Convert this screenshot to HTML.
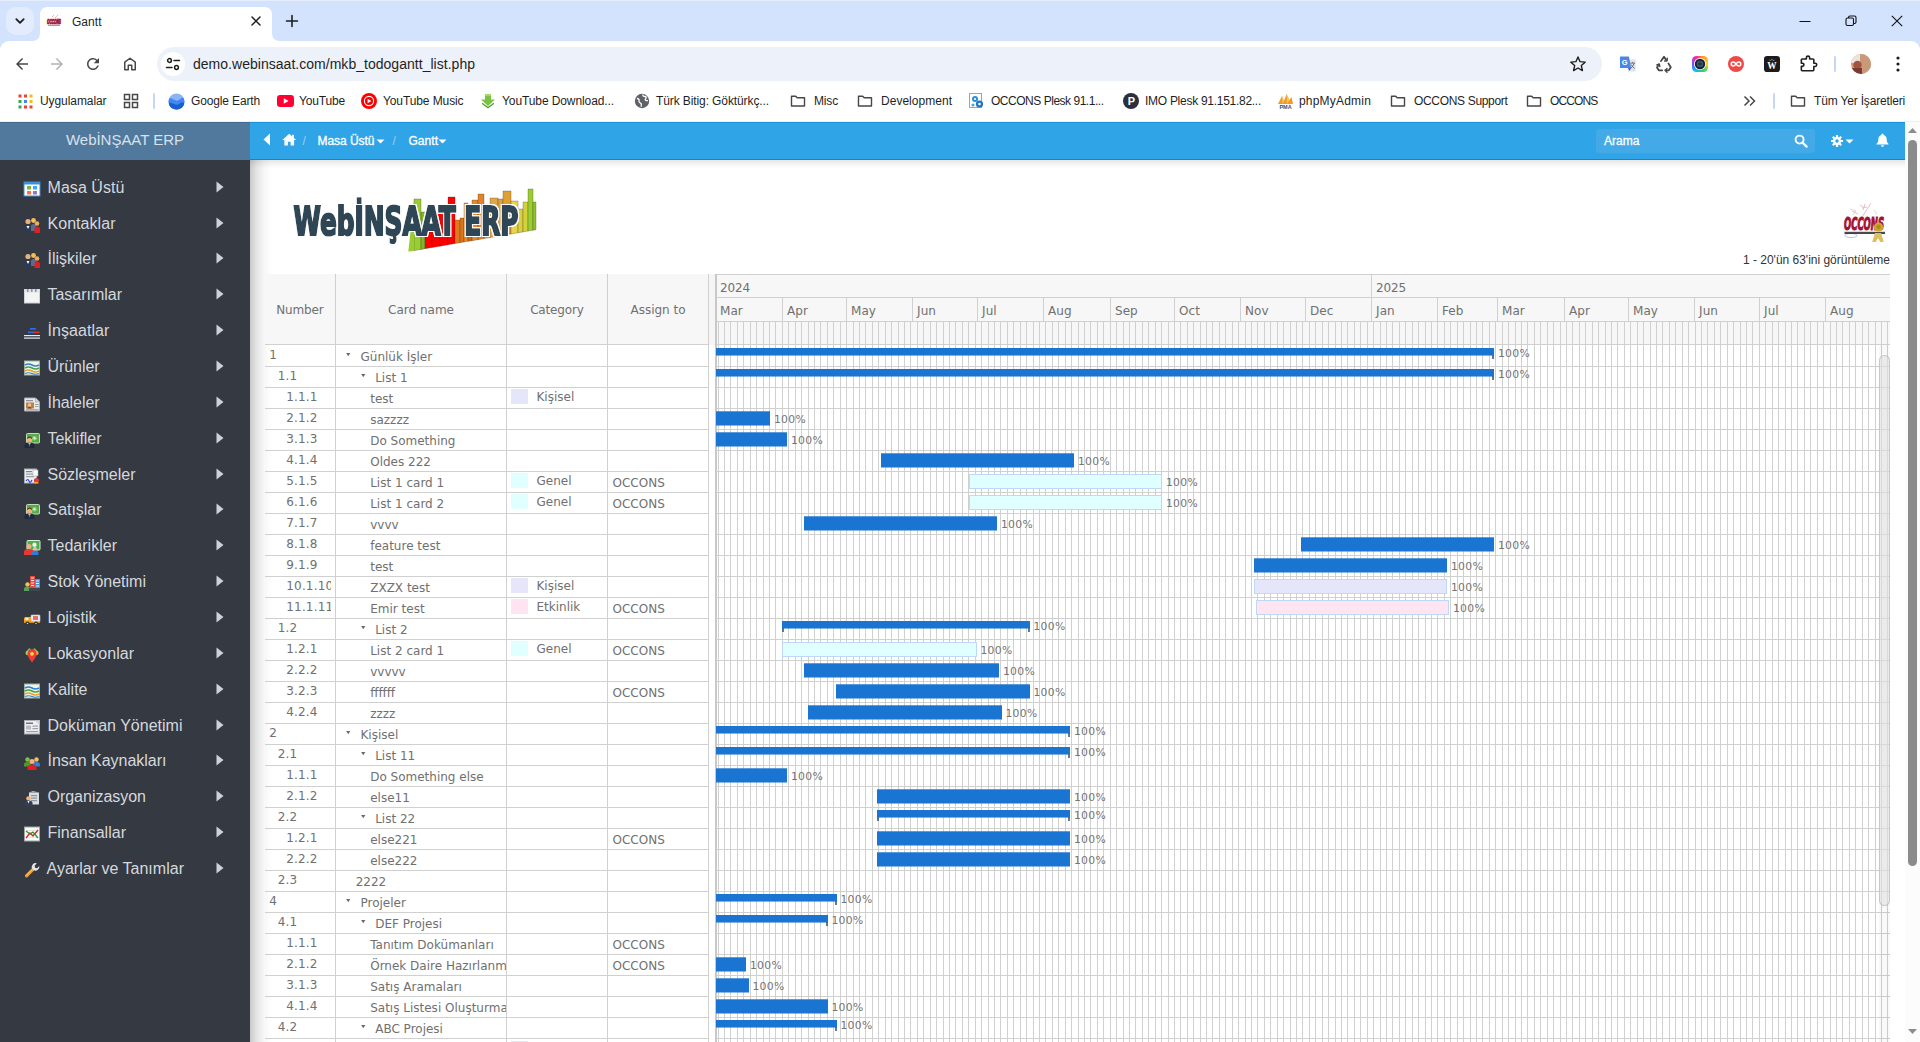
<!DOCTYPE html>
<html lang="tr">
<head>
<meta charset="utf-8">
<title>Gantt</title>
<style>
html,body{margin:0;padding:0}
body{width:1920px;height:1042px;overflow:hidden;position:relative;background:#fff;font-family:"Liberation Sans",sans-serif;font-size:12px;color:#333}
.a,.t{position:absolute;box-sizing:border-box}
.t{white-space:nowrap;margin:0;padding:0;font-weight:normal}
svg{position:absolute;overflow:visible}
ul,li{list-style:none;margin:0;padding:0}
</style>
</head>
<body>
<header><div class="a" style="left:0px;top:0px;width:1920px;height:60px;background:#d3e3fd;"></div>
<div class="a" style="left:0px;top:0px;width:1920px;height:1px;background:#e6eefd;"></div>
<div class="a" style="left:6px;top:7px;width:28px;height:28px;background:#e3ecfd;border-radius:10px;"></div>
<svg style="left:13px;top:15px" width="14" height="12" viewBox="0 0 14 12"><path d="M3.300 4.200l3.700 3.700 3.700-3.700" fill="none" stroke="#1f1f1f" stroke-width="1.8" stroke-linecap="round" stroke-linejoin="round"/></svg>
<svg style="left:32px;top:7px" width="248" height="34" viewBox="0 0 248 34"><path d="M0 34 Q8 34 8 26 V8 Q8 0 16 0 H232 Q240 0 240 8 V26 Q240 34 248 34 Z" fill="#fff"/></svg>
<svg style="left:46px;top:13px" width="16" height="16" viewBox="0 0 16 16"><text x="8" y="11" font-size="7" font-weight="700" font-style="italic" fill="#a3123a" stroke="#a3123a" stroke-width=".9" text-anchor="middle" font-family="Liberation Sans, sans-serif" textLength="14" lengthAdjust="spacingAndGlyphs">OCCONS</text><rect x="2" y="11.800" width="12" height=".9" fill="#777"/><path d="M6 4l2-2M9 5l3-3" stroke="#d9a0a8" stroke-width=".7"/></svg>
<span class="t" style="top:15.84px;font-size:12px;line-height:12px;color:#1f1f1f;letter-spacing:0.028px;left:72.00px;">Gantt</span>
<svg style="left:250px;top:15px" width="12" height="12" viewBox="0 0 12 12"><path d="M2 2l8 8M10 2l-8 8" stroke="#1f1f1f" stroke-width="1.5" stroke-linecap="round"/></svg>
<svg style="left:285px;top:14px" width="14" height="14" viewBox="0 0 14 14"><path d="M7 1.5v11M1.5 7h11" stroke="#1f1f1f" stroke-width="1.6" stroke-linecap="round"/></svg>
<svg style="left:1799px;top:15px" width="12" height="12" viewBox="0 0 12 12"><path d="M0.5 6.5h11" stroke="#111" stroke-width="1"/></svg>
<svg style="left:1845px;top:15px" width="12" height="12" viewBox="0 0 12 12"><rect x="1" y="3" width="7.5" height="7.5" rx="1.5" fill="none" stroke="#111" stroke-width="1.1"/><path d="M3.5 3V2.5Q3.5 1 5 1H9.5Q11 1 11 2.5V7Q11 8.5 9.5 8.5H9" fill="none" stroke="#111" stroke-width="1.1"/></svg>
<svg style="left:1891px;top:15px" width="12" height="12" viewBox="0 0 12 12"><path d="M0.8 0.8l10.4 10.4M11.2 0.8L0.8 11.2" stroke="#111" stroke-width="1.1"/></svg>
<div class="a" style="left:0px;top:41px;width:1920px;height:46px;background:#fff;border-radius:9px 9px 0 0;"></div>
<svg style="left:13px;top:55px" width="18" height="18" viewBox="0 0 24 24"><path d="M20 11H7.83l5.59-5.59L12 4l-8 8 8 8 1.41-1.41L7.83 13H20v-2z" fill="#474747"/></svg>
<svg style="left:48px;top:55px" width="18" height="18" viewBox="0 0 24 24"><path d="M4 11h12.17l-5.59-5.59L12 4l8 8-8 8-1.41-1.41L16.17 13H4v-2z" fill="#b1b3b6"/></svg>
<svg style="left:84px;top:55px" width="18" height="18" viewBox="0 0 24 24"><path d="M17.65 6.35A7.958 7.958 0 0012 4c-4.42 0-7.99 3.58-7.99 8s3.57 8 7.99 8c3.73 0 6.84-2.55 7.73-6h-2.08A5.99 5.99 0 0112 18c-3.31 0-6-2.69-6-6s2.69-6 6-6c1.66 0 3.14.69 4.22 1.78L13 11h7V4l-2.35 2.35z" fill="#474747"/></svg>
<svg style="left:121px;top:55px" width="18" height="18" viewBox="0 0 24 24"><path d="M5 19.800V9.600L12 4.300l7 5.300v10.200h-4.700v-6.300H9.700v6.300z" fill="none" stroke="#474747" stroke-width="2" stroke-linejoin="round"/></svg>
<div class="a" style="left:157px;top:47px;width:1445px;height:34px;background:#edf2fa;border-radius:17px;"></div>
<div class="a" style="left:161px;top:52px;width:24px;height:24px;background:#fff;border-radius:12px;"></div>
<svg style="left:165px;top:56px" width="16" height="16" viewBox="0 0 16 16"><g fill="none" stroke="#1f1f1f" stroke-width="1.5" stroke-linecap="round"><circle cx="4.5" cy="4.5" r="1.9"/><path d="M9 4.5h5.5"/><circle cx="11.5" cy="11.5" r="1.9"/><path d="M1.5 11.5H7"/></g></svg>
<span class="t" style="top:57.15px;font-size:14px;line-height:14px;color:#1f1f1f;letter-spacing:0.026px;left:193.00px;">demo.webinsaat.com/mkb_todogantt_list.php</span>
<svg style="left:1568px;top:54px" width="20" height="20" viewBox="0 0 24 24"><path d="M12 3.6l2.5 5.6 6.1.6-4.6 4.1 1.3 6L12 16.8l-5.3 3.1 1.3-6-4.6-4.1 6.1-.6z" fill="none" stroke="#1f1f1f" stroke-width="1.7" stroke-linejoin="round"/></svg>
<svg style="left:1620px;top:56px" width="16" height="16" viewBox="0 0 18 18"><path d="M7 4h10.500v13.500H9z" fill="#dfe3e8"/><path d="M0 .5h10l2.500 13H0z" fill="#4a86e8"/><path d="M9 13.500h3.500L10.500 17z" fill="#3367d6"/><text x="5.200" y="10.200" font-size="8.500" font-weight="700" fill="#fff" text-anchor="middle" font-family="Liberation Sans, sans-serif">G</text><path d="M11.500 8h5.500M14 6.800V8M16 8q-1 3.500-4 6M12.500 9.500q1 2.500 4 4.500" stroke="#5f6b7a" stroke-width="1" fill="none"/></svg>
<svg style="left:1655px;top:55px" width="18" height="18" viewBox="0 0 18 18"><g fill="none" stroke="#474747" stroke-width="1.800" stroke-linejoin="round" stroke-linecap="round"><path d="M6 6L9 1.800l2.600 3.800"/><path d="M13.400 8.400l2.400 3.900-2 3H10.500"/><path d="M7.200 15.300H3.800L2 12.500l2-3.200"/><path d="M12 13.400l-1.900 1.900 1.900 1.900" stroke-width="1.400"/><path d="M1.800 9.800l2.400-.7.700 2.400" stroke-width="1.400"/><path d="M9.600 6l2.400-.3.300-2.400" stroke-width="1.400"/></g></svg>
<div class="a" style="left:1692px;top:56px;width:16px;height:16px;border-radius:4.500px;background:conic-gradient(from 20deg,#ff9a1f,#ffd21f 20%,#39d36b 35%,#12b5f5 55%,#7c4dff 70%,#ff2d95 88%,#ff9a1f);"></div>
<svg style="left:1692px;top:56px" width="16" height="16" viewBox="0 0 16 16"><circle cx="8" cy="8" r="6" fill="#fff"/><circle cx="8" cy="8" r="5.200" fill="#16222e"/><circle cx="8" cy="8" r="3.300" fill="#3b566f"/><circle cx="8" cy="8" r="1.800" fill="#22384a"/></svg>
<svg style="left:1728px;top:56px" width="16" height="16" viewBox="0 0 18 18"><circle cx="9" cy="9" r="9" fill="#f04848"/><path d="M9 9c-1.200-1.700-2.100-2.200-3.200-2.200a2.200 2.200 0 000 4.400c1.100 0 2-.5 3.200-2.200zm0 0c1.200 1.700 2.100 2.200 3.200 2.200a2.200 2.200 0 000-4.400c-1.100 0-2 .5-3.200 2.200z" fill="none" stroke="#fff" stroke-width="1.700"/></svg>
<svg style="left:1764px;top:56px" width="16" height="16" viewBox="0 0 18 18"><rect width="18" height="18" rx="3.500" fill="#1b1b1d"/><text x="9" y="14.500" font-size="10.500" font-weight="700" fill="#fff" text-anchor="middle" font-family="Liberation Serif, serif">W</text><path d="M6.300 4.300l.9 1.100M9 3.300v1.500M11.700 4.300l-.9 1.100" stroke="#fff" stroke-width=".8"/></svg>
<svg style="left:1798px;top:54px" width="20" height="20" viewBox="0 0 24 24"><path d="M10 4.5a2 2 0 014 0V6h4a1 1 0 011 1v4h1.5a2 2 0 010 4H19v4a1 1 0 01-1 1H5a1 1 0 01-1-1v-4.2h1.2a1.9 1.9 0 000-3.8H4V7a1 1 0 011-1h5z" fill="none" stroke="#1f1f1f" stroke-width="1.9" stroke-linejoin="round"/></svg>
<div class="a" style="left:1834px;top:56px;width:2px;height:16px;background:#c7d7f3;border-radius:1px;"></div>
<svg style="left:1851px;top:54px" width="20" height="20" viewBox="0 0 20 20"><defs><clipPath id="av"><circle cx="10" cy="10" r="10"/></clipPath></defs><g clip-path="url(#av)"><rect width="20" height="20" fill="#c99b7c"/><rect x="0" y="0" width="9" height="9" fill="#ece4dc"/><circle cx="6.5" cy="11" r="4.2" fill="#a3543f"/><rect x="0" y="14" width="12" height="6" fill="#7a3b34"/><rect x="11" y="0" width="9" height="20" fill="#c9997a"/></g></svg>
<svg style="left:1895px;top:54px" width="6" height="20" viewBox="0 0 6 20"><circle cx="3" cy="4" r="1.6" fill="#1f1f1f"/><circle cx="3" cy="10" r="1.6" fill="#1f1f1f"/><circle cx="3" cy="16" r="1.6" fill="#1f1f1f"/></svg>
<div class="a" style="left:0px;top:87px;width:1920px;height:34px;background:#fff;"></div>
<div class="a" style="left:0px;top:121px;width:1920px;height:1px;background:#f2f0ed;"></div>
<svg style="left:18px;top:94px" width="15" height="15" viewBox="0 0 15 15"><rect x="0.5" y="0.5" width="3" height="3" fill="#ea4335"/><rect x="6" y="0.5" width="3" height="3" fill="#ea4335"/><rect x="11.5" y="0.5" width="3" height="3" fill="#fbbc04"/><rect x="0.5" y="6" width="3" height="3" fill="#34a853"/><rect x="6" y="6" width="3" height="3" fill="#4285f4"/><rect x="11.5" y="6" width="3" height="3" fill="#fbbc04"/><rect x="0.5" y="11.5" width="3" height="3" fill="#34a853"/><rect x="6" y="11.5" width="3" height="3" fill="#ea4335"/><rect x="11.5" y="11.5" width="3" height="3" fill="#ea4335"/></svg>
<span class="t" style="top:94.84px;font-size:12px;line-height:12px;color:#1f1f1f;letter-spacing:-0.078px;left:40.00px;">Uygulamalar</span>
<svg style="left:123px;top:93px" width="16" height="16" viewBox="0 0 16 16"><g fill="none" stroke="#474747" stroke-width="1.5"><rect x="1.5" y="1.5" width="5" height="5"/><rect x="9.5" y="1.5" width="5" height="5"/><rect x="1.5" y="9.5" width="5" height="5"/><rect x="9.5" y="9.5" width="5" height="5"/></g></svg>
<div class="a" style="left:153px;top:93px;width:2px;height:16px;background:#c7d7f3;border-radius:1px;"></div>
<svg style="left:168px;top:93px" width="17" height="17" viewBox="0 0 17 17"><defs><clipPath id="ge"><circle cx="8.5" cy="8.5" r="8"/></clipPath></defs><g clip-path="url(#ge)"><rect width="17" height="17" fill="#8ab4f8"/><path d="M-1 7c4-5 8 3 12 0s6-3 8-1v12H-1z" fill="#4285f4"/><path d="M-1 11c4-4 8 3 12 0s5-1 8 1v6H-1z" fill="#1a5fd0"/></g></svg>
<span class="t" style="top:94.84px;font-size:12px;line-height:12px;color:#1f1f1f;letter-spacing:-0.143px;left:191.00px;">Google Earth</span>
<svg style="left:277px;top:95px" width="17" height="12" viewBox="0 0 17 12"><rect width="17" height="12" rx="3.2" fill="#f03"/><path d="M6.8 3.3v5.4L11.5 6z" fill="#fff"/></svg>
<span class="t" style="top:94.84px;font-size:12px;line-height:12px;color:#1f1f1f;letter-spacing:-0.165px;left:299.00px;">YouTube</span>
<svg style="left:361px;top:93px" width="16" height="16" viewBox="0 0 16 16"><circle cx="8" cy="8" r="8" fill="#f00"/><circle cx="8" cy="8" r="4.6" fill="none" stroke="#fff" stroke-width="1.1"/><path d="M6.6 5.7v4.6L10.4 8z" fill="#fff"/></svg>
<span class="t" style="top:94.84px;font-size:12px;line-height:12px;color:#1f1f1f;letter-spacing:-0.102px;left:383.00px;">YouTube Music</span>
<svg style="left:480px;top:93px" width="16" height="16" viewBox="0 0 16 16"><path d="M5 1h6v5.5h4L8 13 1 6.5h4z" fill="#7cc242"/><path d="M5 1h6v2H5z" fill="#a5d86a"/><path d="M2 11l6 4.5 6-4.5v-1.6l-6 4.3-6-4.3z" fill="#5a9e2f"/></svg>
<span class="t" style="top:94.84px;font-size:12px;line-height:12px;color:#1f1f1f;letter-spacing:-0.098px;left:502.00px;">YouTube Download...</span>
<svg style="left:634px;top:93px" width="16" height="16" viewBox="0 0 16 16"><circle cx="8" cy="8" r="7.2" fill="#5f6368"/><path d="M3 5.5c2 .2 2.5 1.2 2 2.5s1 1.5 2 2.500-.5 2.500.5 3.200M9 1.500c-.5 1.500.5 2 2 2s1.500 1.500.5 2.500 1 2 2.500 1.500" fill="none" stroke="#fff" stroke-width="1.3"/></svg>
<span class="t" style="top:94.84px;font-size:12px;line-height:12px;color:#1f1f1f;letter-spacing:-0.103px;left:656.00px;">Türk Bitig: Göktürkç...</span>
<svg style="left:790px;top:93px" width="16" height="16" viewBox="0 0 16 16"><path d="M1.5 3.2h4.2l1.5 1.6h7.3v8.2h-13z" fill="none" stroke="#474747" stroke-width="1.4" stroke-linejoin="round"/></svg>
<span class="t" style="top:94.84px;font-size:12px;line-height:12px;color:#1f1f1f;letter-spacing:-0.168px;left:814.00px;">Misc</span>
<svg style="left:857px;top:93px" width="16" height="16" viewBox="0 0 16 16"><path d="M1.5 3.2h4.2l1.5 1.6h7.3v8.2h-13z" fill="none" stroke="#474747" stroke-width="1.4" stroke-linejoin="round"/></svg>
<span class="t" style="top:94.84px;font-size:12px;line-height:12px;color:#1f1f1f;letter-spacing:0.026px;left:881.00px;">Development</span>
<svg style="left:969px;top:93px" width="16" height="16" viewBox="0 0 16 16"><rect x=".5" y=".5" width="12" height="14" fill="#fff" stroke="#9aa4ad"/><circle cx="6" cy="6" r="3" fill="#2a8fd6"/><circle cx="10.500" cy="11" r="3.600" fill="#1f76c2"/><circle cx="10.500" cy="11" r="1.300" fill="#fff"/><circle cx="6" cy="6" r="1.100" fill="#fff"/><circle cx="4" cy="12" r="1.600" fill="#49a6e6"/></svg>
<span class="t" style="top:94.84px;font-size:12px;line-height:12px;color:#1f1f1f;letter-spacing:-0.477px;left:991.00px;">OCCONS Plesk 91.1...</span>
<svg style="left:1123px;top:93px" width="16" height="16" viewBox="0 0 16 16"><circle cx="8" cy="8" r="8" fill="#2b2f3e"/><text x="8.300" y="12" font-size="11" font-weight="700" fill="#fff" text-anchor="middle" font-family="Liberation Sans, sans-serif">P</text></svg>
<span class="t" style="top:94.84px;font-size:12px;line-height:12px;color:#1f1f1f;letter-spacing:-0.276px;left:1145.00px;">IMO Plesk 91.151.82...</span>
<svg style="left:1277px;top:93px" width="17" height="16" viewBox="0 0 17 16"><path d="M1 11L5 3l2 5 2.500-7 3 6 2-3 1.500 7z" fill="#f39a1f"/><path d="M5 3l2 5L5.500 11zM9.500 1l3 6-2.500 4z" fill="#f7c36b"/><text x="8.500" y="15.800" font-size="5.500" font-weight="700" fill="#3b4a7a" text-anchor="middle" font-family="Liberation Sans, sans-serif">PMA</text></svg>
<span class="t" style="top:94.84px;font-size:12px;line-height:12px;color:#1f1f1f;letter-spacing:0.197px;left:1299.00px;">phpMyAdmin</span>
<svg style="left:1390px;top:93px" width="16" height="16" viewBox="0 0 16 16"><path d="M1.5 3.2h4.2l1.5 1.6h7.3v8.2h-13z" fill="none" stroke="#474747" stroke-width="1.4" stroke-linejoin="round"/></svg>
<span class="t" style="top:94.84px;font-size:12px;line-height:12px;color:#1f1f1f;letter-spacing:-0.325px;left:1414.00px;">OCCONS Support</span>
<svg style="left:1526px;top:93px" width="16" height="16" viewBox="0 0 16 16"><path d="M1.5 3.2h4.2l1.5 1.6h7.3v8.2h-13z" fill="none" stroke="#474747" stroke-width="1.4" stroke-linejoin="round"/></svg>
<span class="t" style="top:94.84px;font-size:12px;line-height:12px;color:#1f1f1f;letter-spacing:-0.862px;left:1550.00px;">OCCONS</span>
<svg style="left:1743px;top:95px" width="13" height="12" viewBox="0 0 13 12"><path d="M1.500 1.500L6 6l-4.500 4.500M7 1.500L11.500 6 7 10.500" fill="none" stroke="#474747" stroke-width="1.500"/></svg>
<div class="a" style="left:1773px;top:93px;width:2px;height:16px;background:#c7d7f3;border-radius:1px;"></div>
<svg style="left:1790px;top:93px" width="16" height="16" viewBox="0 0 16 16"><path d="M1.5 3.2h4.2l1.5 1.6h7.3v8.2h-13z" fill="none" stroke="#474747" stroke-width="1.4" stroke-linejoin="round"/></svg>
<span class="t" style="top:94.84px;font-size:12px;line-height:12px;color:#1f1f1f;letter-spacing:-0.169px;left:1814.00px;">Tüm Yer İşaretleri</span></header>
<nav><div class="a" style="left:0px;top:122px;width:250px;height:920px;background:#353941;"></div>
<div class="a" style="left:0px;top:122px;width:250px;height:38px;background:#50799d;border-top:1px solid #476b8d;"></div>
<span class="t" style="top:132.30px;font-size:15px;line-height:15px;color:#d9e1ea;letter-spacing:-0.029px;left:124.99px;transform:translateX(-50%);">WebİNŞAAT ERP</span>
<ul><li><svg style="left:24px;top:181.0px" width="16" height="16" viewBox="0 0 16 16"><rect x="0" y="1" width="16" height="14" fill="#fff" stroke="#3d8fd8" stroke-width="1"/><rect x="0" y="1" width="16" height="2.500" fill="#3d8fd8"/><rect x="3" y="5" width="4" height="3.500" fill="#7cb342"/><rect x="9" y="5" width="4" height="3.500" fill="#42a5f5"/><rect x="3" y="10" width="4" height="3.500" fill="#ff7043"/><rect x="9" y="10" width="4" height="3.500" fill="#9575cd"/></svg><span class="t" style="top:180.00px;font-size:16px;line-height:16px;color:#d4d8de;letter-spacing:0.059px;left:47.50px;">Masa Üstü</span><svg style="left:216px;top:181px" width="8" height="12" viewBox="0 0 8 12"><path d="M.5 .5v11L7.500 6z" fill="#cdd1d8"/></svg></li><li><svg style="left:24px;top:217.0px" width="16" height="16" viewBox="0 0 16 16"><circle cx="4" cy="4.500" r="2.600" fill="#e8b07a"/><path d="M0 15v-4q0-3 4-3t4 3v4z" fill="#2b3a55"/><path d="M2.500 9l1.500 3 1.500-3z" fill="#fff"/><circle cx="9.500" cy="3.500" r="2.400" fill="#f2c14e"/><path d="M7 14V9q0-2 2.500-2T12 9v5z" fill="#5a6b8c"/><circle cx="13" cy="6.500" r="2.300" fill="#f0a868"/><path d="M10.500 16v-4q0-2.500 2.700-2.500T16 12v4z" fill="#e02020"/></svg><span class="t" style="top:216.00px;font-size:16px;line-height:16px;color:#d4d8de;letter-spacing:0.045px;left:47.50px;">Kontaklar</span><svg style="left:216px;top:217px" width="8" height="12" viewBox="0 0 8 12"><path d="M.5 .5v11L7.500 6z" fill="#cdd1d8"/></svg></li><li><svg style="left:24px;top:252.0px" width="16" height="16" viewBox="0 0 16 16"><circle cx="4" cy="4.500" r="2.600" fill="#e8b07a"/><path d="M0 15v-4q0-3 4-3t4 3v4z" fill="#2b3a55"/><path d="M2.500 9l1.500 3 1.500-3z" fill="#fff"/><circle cx="9.500" cy="3.500" r="2.400" fill="#f2c14e"/><path d="M7 14V9q0-2 2.500-2T12 9v5z" fill="#5a6b8c"/><circle cx="13" cy="6.500" r="2.300" fill="#f0a868"/><path d="M10.500 16v-4q0-2.500 2.700-2.500T16 12v4z" fill="#e02020"/></svg><span class="t" style="top:251.00px;font-size:16px;line-height:16px;color:#d4d8de;letter-spacing:0.012px;left:47.50px;">İlişkiler</span><svg style="left:216px;top:252px" width="8" height="12" viewBox="0 0 8 12"><path d="M.5 .5v11L7.500 6z" fill="#cdd1d8"/></svg></li><li><svg style="left:24px;top:288.0px" width="16" height="16" viewBox="0 0 16 16"><rect x=".5" y="1.500" width="15" height="13.500" fill="#f4f4f4" stroke="#cfd3d8"/><rect x=".5" y="1.500" width="15" height="3" fill="#e1e4e8"/><rect x="3" y="1" width="1.500" height="3" fill="#8d949c"/><rect x="7" y="1" width="1.500" height="3" fill="#8d949c"/><rect x="11" y="1" width="1.500" height="3" fill="#8d949c"/></svg><span class="t" style="top:287.00px;font-size:16px;line-height:16px;color:#d4d8de;letter-spacing:-0.019px;left:47.50px;">Tasarımlar</span><svg style="left:216px;top:288px" width="8" height="12" viewBox="0 0 8 12"><path d="M.5 .5v11L7.500 6z" fill="#cdd1d8"/></svg></li><li><svg style="left:24px;top:324.0px" width="16" height="16" viewBox="0 0 16 16"><rect x="0" y="13.500" width="16" height="1.200" fill="#e8eaee"/><rect x="0" y="11" width="16" height="1.200" fill="#e8eaee"/><rect x="4" y="7.500" width="6" height="1.700" fill="#2f6be0"/><rect x="9.500" y="7.500" width="6" height="1.700" fill="#e03030"/><rect x="6" y="4" width="6" height="1.700" fill="#2f6be0"/></svg><span class="t" style="top:323.00px;font-size:16px;line-height:16px;color:#d4d8de;letter-spacing:0.069px;left:47.50px;">İnşaatlar</span><svg style="left:216px;top:324px" width="8" height="12" viewBox="0 0 8 12"><path d="M.5 .5v11L7.500 6z" fill="#cdd1d8"/></svg></li><li><svg style="left:24px;top:360.0px" width="16" height="16" viewBox="0 0 16 16"><rect x=".5" y="1" width="15" height="14" fill="#eef6e8" stroke="#9fb0a0"/><path d="M1 5q3.500-2 7 0t7 0" stroke="#2f7ed8" stroke-width="1.600" fill="none"/><path d="M1 8q3.500-2 7 0t7 0" stroke="#3fa34d" stroke-width="1.600" fill="none"/><path d="M1 11q3.500-2 7 0t7 0" stroke="#f0a020" stroke-width="1.600" fill="none"/><path d="M1 13.500q3.500-1.500 7 0t7 0" stroke="#2f7ed8" stroke-width="1.200" fill="none"/></svg><span class="t" style="top:359.00px;font-size:16px;line-height:16px;color:#d4d8de;letter-spacing:-0.067px;left:47.50px;">Ürünler</span><svg style="left:216px;top:360px" width="8" height="12" viewBox="0 0 8 12"><path d="M.5 .5v11L7.500 6z" fill="#cdd1d8"/></svg></li><li><svg style="left:24px;top:396.0px" width="16" height="16" viewBox="0 0 16 16"><path d="M.5 2h11l4 4v9H.5z" fill="#e9eaec" stroke="#a9adb3"/><path d="M11.500 2v4h4" fill="#cfd3d8" stroke="#a9adb3" stroke-width=".7"/><rect x="2" y="4" width="7" height="1.300" fill="#8f949b"/><rect x="2" y="6.500" width="8" height="6" fill="#b9824a"/><circle cx="5.500" cy="9" r="1.800" fill="#f0c08a"/><path d="M3 12.500q2.500-3 5 0z" fill="#6a3f1d"/><rect x="11" y="8" width="3.500" height="1" fill="#9aa0a8"/><rect x="11" y="10" width="3.500" height="1" fill="#9aa0a8"/><rect x="2" y="13.300" width="12.500" height="1" fill="#8f949b"/></svg><span class="t" style="top:395.00px;font-size:16px;line-height:16px;color:#d4d8de;letter-spacing:-0.061px;left:47.50px;">İhaleler</span><svg style="left:216px;top:396px" width="8" height="12" viewBox="0 0 8 12"><path d="M.5 .5v11L7.500 6z" fill="#cdd1d8"/></svg></li><li><svg style="left:24px;top:432.0px" width="16" height="16" viewBox="0 0 16 16"><rect x="2.500" y="1.500" width="13" height="9.500" rx="1" fill="#5aa84a" stroke="#cfe8c8" stroke-width=".9"/><circle cx="10.500" cy="6.200" r="2.300" fill="#8fcf7f"/><circle cx="10.500" cy="6.200" r="1.100" fill="#dff3d8"/><circle cx="5.500" cy="8.300" r="2.700" fill="#f0b27a"/><path d="M3 7.300q2.500-3 5 0l-.3-1.800q-2.200-1.800-4.400 0z" fill="#5a3a1a"/><path d="M.5 16v-2.500q0-3 5-3t5 3V16z" fill="#1f2a3c"/><path d="M4.300 10.800l1.200 3 1.200-3z" fill="#fff"/><path d="M5.200 11.500h.6l.3 2.500-.6.600-.6-.6z" fill="#3b7be0"/></svg><span class="t" style="top:431.00px;font-size:16px;line-height:16px;color:#d4d8de;letter-spacing:-0.026px;left:47.50px;">Teklifler</span><svg style="left:216px;top:432px" width="8" height="12" viewBox="0 0 8 12"><path d="M.5 .5v11L7.500 6z" fill="#cdd1d8"/></svg></li><li><svg style="left:24px;top:468.0px" width="16" height="16" viewBox="0 0 16 16"><rect x=".5" y="1" width="12" height="14" fill="#eceef1" stroke="#a9adb3"/><rect x="2" y="3" width="6" height="1.200" fill="#7d838b"/><rect x="2" y="5.500" width="8" height="1.200" fill="#9aa0a8"/><rect x="2" y="8" width="8" height="1.200" fill="#9aa0a8"/><rect x="9" y="2" width="5" height="6" fill="#fff" stroke="#a9adb3" stroke-width=".6"/><path d="M2 13q2-3 3 0t3-1" stroke="#2540d8" stroke-width="1.200" fill="none"/><circle cx="12.500" cy="12.500" r="2.600" fill="#e53935"/><path d="M11 14l-.5 2 2-1 2 1-.5-2z" fill="#ffb300"/></svg><span class="t" style="top:467.00px;font-size:16px;line-height:16px;color:#d4d8de;letter-spacing:-0.003px;left:47.50px;">Sözleşmeler</span><svg style="left:216px;top:468px" width="8" height="12" viewBox="0 0 8 12"><path d="M.5 .5v11L7.500 6z" fill="#cdd1d8"/></svg></li><li><svg style="left:24px;top:503.0px" width="16" height="16" viewBox="0 0 16 16"><rect x="2.500" y="1.500" width="13" height="9.500" rx="1" fill="#5aa84a" stroke="#cfe8c8" stroke-width=".9"/><circle cx="10.500" cy="6.200" r="2.300" fill="#8fcf7f"/><circle cx="10.500" cy="6.200" r="1.100" fill="#dff3d8"/><circle cx="5.500" cy="8.300" r="2.700" fill="#f0b27a"/><path d="M3 7.300q2.500-3 5 0l-.3-1.800q-2.200-1.800-4.400 0z" fill="#5a3a1a"/><path d="M.5 16v-2.500q0-3 5-3t5 3V16z" fill="#1f2a3c"/><path d="M4.300 10.800l1.200 3 1.200-3z" fill="#fff"/><path d="M5.200 11.500h.6l.3 2.500-.6.600-.6-.6z" fill="#3b7be0"/></svg><span class="t" style="top:502.00px;font-size:16px;line-height:16px;color:#d4d8de;letter-spacing:-0.031px;left:47.50px;">Satışlar</span><svg style="left:216px;top:503px" width="8" height="12" viewBox="0 0 8 12"><path d="M.5 .5v11L7.500 6z" fill="#cdd1d8"/></svg></li><li><svg style="left:24px;top:539.0px" width="16" height="16" viewBox="0 0 16 16"><rect x="3" y="1.500" width="13" height="9.500" rx="1" fill="#4caf50" stroke="#dff0d8"/><circle cx="10.500" cy="5.800" r="2.200" fill="#e8f5e9"/><circle cx="5" cy="7.500" r="2.500" fill="#f4b183"/><path d="M0 16v-3q0-3 5-3t5 3v3z" fill="#e53935"/><circle cx="11" cy="10" r="2" fill="#f0c08a"/><path d="M7.500 16v-2q0-2.500 3.500-2.500T14.500 14v2z" fill="#2e7dd6"/></svg><span class="t" style="top:538.00px;font-size:16px;line-height:16px;color:#d4d8de;letter-spacing:0.014px;left:47.50px;">Tedarikler</span><svg style="left:216px;top:539px" width="8" height="12" viewBox="0 0 8 12"><path d="M.5 .5v11L7.500 6z" fill="#cdd1d8"/></svg></li><li><svg style="left:24px;top:575.0px" width="16" height="16" viewBox="0 0 16 16"><rect x="6" y="1" width="5" height="14" fill="#e04a3f"/><rect x="11" y="4" width="5" height="11" fill="#4a8fe0"/><path d="M7 3h3M7 5.500h3M7 8h3M7 10.500h3M12 6h3M12 8.500h3M12 11h3" stroke="#fff" stroke-width=".9"/><circle cx="3.500" cy="9.500" r="2.200" fill="#f2c14e"/><path d="M0 16v-2q0-2.500 3.500-2.500T7 14v2z" fill="#5aa05a"/><rect x="5" y="13" width="11" height="3" fill="#3f4650"/></svg><span class="t" style="top:574.00px;font-size:16px;line-height:16px;color:#d4d8de;letter-spacing:0.006px;left:47.50px;">Stok Yönetimi</span><svg style="left:216px;top:575px" width="8" height="12" viewBox="0 0 8 12"><path d="M.5 .5v11L7.500 6z" fill="#cdd1d8"/></svg></li><li><svg style="left:24px;top:611.0px" width="16" height="16" viewBox="0 0 16 16"><rect x="7" y="4" width="9" height="7" rx=".8" fill="#e8eaee" stroke="#c9cdd3" stroke-width=".6"/><path d="M9 6h5M9 8h5" stroke="#e04a3f" stroke-width="1.300"/><path d="M0 11V7.500q0-1.500 1.500-1.500H7v5z" fill="#f5a623"/><rect x="1.300" y="6.800" width="3" height="2.300" fill="#fff3d6"/><rect x="0" y="10.500" width="16" height="1.500" fill="#e08a1a"/><circle cx="3.500" cy="12.500" r="1.900" fill="#2b2f36"/><circle cx="12" cy="12.500" r="1.900" fill="#2b2f36"/><circle cx="3.500" cy="12.500" r=".8" fill="#c9cdd3"/><circle cx="12" cy="12.500" r=".8" fill="#c9cdd3"/></svg><span class="t" style="top:610.00px;font-size:16px;line-height:16px;color:#d4d8de;letter-spacing:0.012px;left:47.50px;">Lojistik</span><svg style="left:216px;top:611px" width="8" height="12" viewBox="0 0 8 12"><path d="M.5 .5v11L7.500 6z" fill="#cdd1d8"/></svg></li><li><svg style="left:24px;top:647.0px" width="16" height="16" viewBox="0 0 16 16"><path d="M3.500 5l2-2.500M12.500 5l-2-2.500" stroke="#6fbf4a" stroke-width="2.400" stroke-linecap="round"/><circle cx="3.800" cy="6" r="2.300" fill="#9bd26a"/><circle cx="12.300" cy="6" r="2.300" fill="#f0a43a"/><path d="M8 15.500Q3.500 10 3.500 6.800a4.500 4.500 0 019 0Q12.500 10 8 15.500z" fill="#ef3b36"/><circle cx="8" cy="6.800" r="1.900" fill="#ffd54f"/></svg><span class="t" style="top:646.00px;font-size:16px;line-height:16px;color:#d4d8de;letter-spacing:0.020px;left:47.50px;">Lokasyonlar</span><svg style="left:216px;top:647px" width="8" height="12" viewBox="0 0 8 12"><path d="M.5 .5v11L7.500 6z" fill="#cdd1d8"/></svg></li><li><svg style="left:24px;top:683.0px" width="16" height="16" viewBox="0 0 16 16"><rect x=".5" y="1" width="15" height="14" fill="#eef6e8" stroke="#9fb0a0"/><path d="M1 5q3.500-2 7 0t7 0" stroke="#2f7ed8" stroke-width="1.600" fill="none"/><path d="M1 8q3.500-2 7 0t7 0" stroke="#3fa34d" stroke-width="1.600" fill="none"/><path d="M1 11q3.500-2 7 0t7 0" stroke="#f0a020" stroke-width="1.600" fill="none"/><path d="M1 13.500q3.500-1.500 7 0t7 0" stroke="#2f7ed8" stroke-width="1.200" fill="none"/></svg><span class="t" style="top:682.00px;font-size:16px;line-height:16px;color:#d4d8de;letter-spacing:-0.005px;left:47.50px;">Kalite</span><svg style="left:216px;top:683px" width="8" height="12" viewBox="0 0 8 12"><path d="M.5 .5v11L7.500 6z" fill="#cdd1d8"/></svg></li><li><svg style="left:24px;top:719.0px" width="16" height="16" viewBox="0 0 16 16"><rect x=".5" y="1.500" width="15" height="13.500" fill="#eceef1" stroke="#a9adb3"/><rect x="2" y="3.500" width="7" height="1.500" fill="#6f757d"/><rect x="2" y="6.500" width="5" height="4" fill="#b9bdc3"/><rect x="8.500" y="6.500" width="5.500" height="1.200" fill="#9aa0a8"/><rect x="8.500" y="9" width="5.500" height="1.200" fill="#9aa0a8"/><rect x="2" y="12" width="12" height="1.200" fill="#9aa0a8"/><path d="M11 1.500h4.500V6z" fill="#cfd3d8"/></svg><span class="t" style="top:718.00px;font-size:16px;line-height:16px;color:#d4d8de;letter-spacing:0.007px;left:47.50px;">Doküman Yönetimi</span><svg style="left:216px;top:719px" width="8" height="12" viewBox="0 0 8 12"><path d="M.5 .5v11L7.500 6z" fill="#cdd1d8"/></svg></li><li><svg style="left:24px;top:754.0px" width="16" height="16" viewBox="0 0 16 16"><circle cx="3.500" cy="5.500" r="2.200" fill="#7cc04a"/><path d="M0 12.500v-2q0-2.500 3.500-2.500T7 10.500v2z" fill="#4e9a2e"/><circle cx="12.500" cy="5.500" r="2.200" fill="#f2c14e"/><path d="M9 12.500v-2q0-2.500 3.500-2.500t3.500 2.500v2z" fill="#3a7bd5"/><circle cx="8" cy="7.500" r="2.600" fill="#f4b183"/><path d="M3.500 16v-2.500q0-3 4.500-3t4.500 3V16z" fill="#e02020"/></svg><span class="t" style="top:753.00px;font-size:16px;line-height:16px;color:#d4d8de;letter-spacing:-0.012px;left:47.50px;">İnsan Kaynakları</span><svg style="left:216px;top:754px" width="8" height="12" viewBox="0 0 8 12"><path d="M.5 .5v11L7.500 6z" fill="#cdd1d8"/></svg></li><li><svg style="left:24px;top:790.0px" width="16" height="16" viewBox="0 0 16 16"><path d="M5 2.500h10v12H5z" fill="#d9dce1"/><path d="M5 2.500L9 1l6 1.500" fill="#b9bdc3"/><rect x="7" y="5" width="6" height="1.200" fill="#8f949b"/><rect x="7" y="7.500" width="6" height="1.200" fill="#8f949b"/><rect x="7" y="10" width="6" height="1.200" fill="#8f949b"/><circle cx="4.500" cy="8.500" r="2.300" fill="#f0b27a"/><path d="M.5 16v-3q0-2.500 4-2.500t4 2.500v3z" fill="#2f3e5c"/><path d="M3.500 11l1 2.500 1-2.500z" fill="#fff"/></svg><span class="t" style="top:789.00px;font-size:16px;line-height:16px;color:#d4d8de;letter-spacing:-0.018px;left:47.50px;">Organizasyon</span><svg style="left:216px;top:790px" width="8" height="12" viewBox="0 0 8 12"><path d="M.5 .5v11L7.500 6z" fill="#cdd1d8"/></svg></li><li><svg style="left:24px;top:826.0px" width="16" height="16" viewBox="0 0 16 16"><rect x=".5" y="1" width="15" height="14" fill="#fbfbf6" stroke="#9fa5ab"/><path d="M2 4.500h12M2 8h12M2 11.500h12" stroke="#d9dcd0" stroke-width=".7"/><path d="M2 12l4-5 3 3 5-6" stroke="#e02020" stroke-width="1.300" fill="none"/><path d="M2 5l4 3 3-2 5 6" stroke="#2f8f3a" stroke-width="1.300" fill="none"/></svg><span class="t" style="top:825.00px;font-size:16px;line-height:16px;color:#d4d8de;letter-spacing:0.021px;left:47.50px;">Finansallar</span><svg style="left:216px;top:826px" width="8" height="12" viewBox="0 0 8 12"><path d="M.5 .5v11L7.500 6z" fill="#cdd1d8"/></svg></li><li><svg style="left:24px;top:862.0px" width="16" height="16" viewBox="0 0 16 16"><path d="M2.500 13.800L9 7.300" stroke="#f0a030" stroke-width="3.200" stroke-linecap="round"/><path d="M2.300 13.300L8 7.600" stroke="#ffc868" stroke-width="1" stroke-linecap="round"/><path d="M12.800 1.300a3.900 3.900 0 00-4.600 5.500l1.600 1.500a3.900 3.900 0 005.500-4.300l-2.300 2.200-1.900-.5-.500-1.900z" fill="#e4e6ea"/></svg><span class="t" style="top:861.00px;font-size:16px;line-height:16px;color:#d4d8de;letter-spacing:0.013px;left:46.50px;">Ayarlar ve Tanımlar</span><svg style="left:216px;top:862px" width="8" height="12" viewBox="0 0 8 12"><path d="M.5 .5v11L7.500 6z" fill="#cdd1d8"/></svg></li></ul></nav>
<main><div class="a" style="left:250px;top:122px;width:1655px;height:920px;background:#fff;"></div>
<div class="a" style="left:250px;top:160px;width:22px;height:882px;background:linear-gradient(90deg,rgba(0,0,0,.21),rgba(0,0,0,.10) 30%,rgba(0,0,0,.03) 65%,rgba(0,0,0,0));"></div>
<div class="a" style="left:250px;top:160px;width:1655px;height:9px;background:linear-gradient(180deg,rgba(0,0,0,.10),rgba(0,0,0,.03) 55%,rgba(0,0,0,0));"></div>
<div class="a" style="left:250px;top:122px;width:1655px;height:38px;background:#2fa4e7;border-bottom:1px solid #1086d2;border-top:1px solid #1b93df;"></div>
<svg style="left:263px;top:133px" width="8" height="13" viewBox="0 0 8 13"><path d="M7 .5v12L.5 6.500z" fill="#fff"/></svg>
<svg style="left:281.500px;top:133px" width="14.500" height="13" viewBox="0 0 14 13" preserveAspectRatio="none"><path d="M7 .8L.3 7h2v5.500h3.400V8.700h2.600v3.800h3.400V7h2L11.500 5V1.800H9.800v1.600z" fill="#fff"/></svg>
<span class="t" style="top:134.84px;font-size:12px;line-height:12px;color:#9fd0f0;left:302.50px;">/</span>
<span class="t" style="top:134.84px;font-size:12px;line-height:12px;color:#fff;letter-spacing:-0.040px;left:317.50px;-webkit-text-stroke:.3px #fff;">Masa Üstü</span>
<svg style="left:376px;top:139px" width="9" height="5" viewBox="0 0 9 5"><path d="M.5 .5h8L4.500 4.600z" fill="#fff"/></svg>
<span class="t" style="top:134.84px;font-size:12px;line-height:12px;color:#9fd0f0;left:392.50px;">/</span>
<span class="t" style="top:134.84px;font-size:12px;line-height:12px;color:#fff;letter-spacing:0.028px;left:408.50px;-webkit-text-stroke:.3px #fff;">Gantt</span>
<svg style="left:438px;top:139px" width="9" height="5" viewBox="0 0 9 5"><path d="M.5 .5h8L4.500 4.600z" fill="#fff"/></svg>
<div class="a" style="left:1596px;top:129px;width:219px;height:24px;background:#43a9e7;border-radius:3px;"></div>
<span class="t" style="top:134.84px;font-size:12px;line-height:12px;color:#fff;letter-spacing:0.031px;left:1604.00px;-webkit-text-stroke:.3px #fff;">Arama</span>
<svg style="left:1794px;top:134px" width="14" height="14" viewBox="0 0 14 14"><circle cx="5.600" cy="5.600" r="4" fill="none" stroke="#fff" stroke-width="1.900"/><path d="M8.600 8.600l4 4" stroke="#fff" stroke-width="2.200" stroke-linecap="round"/></svg>
<svg style="left:1831px;top:134.500px" width="12" height="12" viewBox="0 0 13 13"><g fill="#fff"><circle cx="6.500" cy="6.500" r="4.300"/><g id="gt"><rect x="5.300" y="0" width="2.400" height="13" rx=".4"/></g><rect x="5.300" y="0" width="2.400" height="13" rx=".4" transform="rotate(45 6.500 6.500)"/><rect x="5.300" y="0" width="2.400" height="13" rx=".4" transform="rotate(90 6.500 6.500)"/><rect x="5.300" y="0" width="2.400" height="13" rx=".4" transform="rotate(135 6.500 6.500)"/></g><circle cx="6.500" cy="6.500" r="1.900" fill="#2fa4e7"/></svg>
<svg style="left:1845px;top:139px" width="9" height="5" viewBox="0 0 9 5"><path d="M.5 .5h8L4.500 4.600z" fill="#fff"/></svg>
<svg style="left:1876px;top:133px" width="13" height="14" viewBox="0 0 13 14"><path d="M6.500 .5a1 1 0 011 1v.4c2 .5 3.200 2.200 3.200 4.300 0 2.800.8 3.800 1.800 4.600v.7H.5v-.7c1-.8 1.800-1.800 1.800-4.600 0-2.100 1.200-3.800 3.200-4.300v-.4a1 1 0 011-1z" fill="#fff"/><path d="M5 12.200a1.500 1.500 0 003 0z" fill="#fff"/></svg>
<svg style="left:0;top:0" width="1920" height="270" viewBox="0 0 1920 270"><path d="M414 250.622 V199 H421 V249.422 Z" fill="#9acd32" stroke="#3a2a1a" stroke-width=".5" stroke-opacity=".55"/><path d="M421 249.422 V212 H425 V248.736 Z" fill="#7fb526" stroke="#3a2a1a" stroke-width=".5" stroke-opacity=".55"/><path d="M425 248.736 V214 H432 V247.536 Z" fill="#f00" stroke="#3a2a1a" stroke-width=".5" stroke-opacity=".55"/><path d="M432 247.536 V210 H440 V246.164 Z" fill="#f00" stroke="#3a2a1a" stroke-width=".5" stroke-opacity=".55"/><path d="M440 246.164 V206 H448 V244.792 Z" fill="#f00" stroke="#3a2a1a" stroke-width=".5" stroke-opacity=".55"/><path d="M448 244.792 V197 H455 V243.591 Z" fill="#f00" stroke="#3a2a1a" stroke-width=".5" stroke-opacity=".55"/><path d="M455 243.591 V220 H460 V242.734 Z" fill="#e07a1f" stroke="#3a2a1a" stroke-width=".5" stroke-opacity=".55"/><path d="M460 242.734 V218 H464 V242.048 Z" fill="#d9761a" stroke="#3a2a1a" stroke-width=".5" stroke-opacity=".55"/><path d="M464 242.048 V203 H468 V241.362 Z" fill="#e08a2f" stroke="#3a2a1a" stroke-width=".5" stroke-opacity=".55"/><path d="M468 241.362 V208 H472 V240.676 Z" fill="#c96a15" stroke="#3a2a1a" stroke-width=".5" stroke-opacity=".55"/><path d="M472 240.676 V200 H478 V239.647 Z" fill="#e08a2f" stroke="#3a2a1a" stroke-width=".5" stroke-opacity=".55"/><path d="M478 239.647 V194 H484 V238.618 Z" fill="#e0832a" stroke="#3a2a1a" stroke-width=".5" stroke-opacity=".55"/><path d="M484 238.618 V206 H490 V237.589 Z" fill="#dd9a3c" stroke="#3a2a1a" stroke-width=".5" stroke-opacity=".55"/><path d="M490 237.589 V198 H498 V236.217 Z" fill="#e0a64a" stroke="#3a2a1a" stroke-width=".5" stroke-opacity=".55"/><path d="M498 236.217 V199 H503 V235.359 Z" fill="#dda040" stroke="#3a2a1a" stroke-width=".5" stroke-opacity=".55"/><path d="M503 235.359 V191 H511 V233.987 Z" fill="#e0a030" stroke="#3a2a1a" stroke-width=".5" stroke-opacity=".55"/><path d="M511 233.987 V201 H518 V232.787 Z" fill="#e8d44a" stroke="#3a2a1a" stroke-width=".5" stroke-opacity=".55"/><path d="M518 232.787 V209 H523 V231.929 Z" fill="#d8d040" stroke="#3a2a1a" stroke-width=".5" stroke-opacity=".55"/><path d="M523 231.929 V202 H528 V231.072 Z" fill="#d4d23a" stroke="#3a2a1a" stroke-width=".5" stroke-opacity=".55"/><path d="M528 231.072 V189 H533 V230.214 Z" fill="#9acd32" stroke="#3a2a1a" stroke-width=".5" stroke-opacity=".55"/><path d="M533 230.214 V202 H536 V229.7 Z" fill="#8fc42c" stroke="#3a2a1a" stroke-width=".5" stroke-opacity=".55"/><path d="M408.300 251.600 L414 200 L414 251 Z" fill="#9acd32"/><defs><filter id="halo" x="-5%" y="-25%" width="110%" height="150%"><feMorphology in="SourceAlpha" operator="dilate" radius="1.200" result="d"/><feGaussianBlur in="d" stdDeviation=".35" result="db"/><feFlood flood-color="#fff"/><feComposite in2="db" operator="in" result="h"/><feMerge><feMergeNode in="h"/><feMergeNode in="h"/><feMergeNode in="SourceGraphic"/></feMerge></filter></defs><text x="293.500" y="234.800" filter="url(#halo)" font-family="DejaVu Sans Condensed, DejaVu Sans, Liberation Sans, sans-serif" font-weight="700" font-size="39.500" fill="#2f4656" stroke="#2f4656" stroke-width="2.200" stroke-linejoin="miter" textLength="225" lengthAdjust="spacingAndGlyphs">WebİNŞAAT ERP</text></svg>
<svg style="left:1838px;top:200px" width="56" height="46" viewBox="0 0 56 46"><path d="M22 5l3 2M27 4l-2 6M33 3l-9 14M14 11l6 3M8 16l4 2M30 22l4-3M24 8l5-1" stroke="#dcb4bc" stroke-width=".8" fill="none"/><path d="M12 9l6 2-3 4M36 10l3 4" stroke="#c8c8d0" stroke-width=".7" fill="none"/><ellipse cx="13" cy="35.500" rx="6" ry="2" fill="none" stroke="#aab0d8" stroke-width=".8"/><text x="6" y="30.300" font-family="DejaVu Sans Condensed, Liberation Sans, sans-serif" font-weight="700" font-style="italic" font-size="18.500" fill="#a50f30" stroke="#a50f30" stroke-width="1.100" textLength="40" lengthAdjust="spacingAndGlyphs">OCCONS</text><rect x="6.500" y="31.800" width="40.500" height="2.200" fill="#2a2a2a" opacity=".85"/><path d="M37 33l-2.800 9h3.600l2.200-4 2.200 4h3.600L43 33z" fill="#dcbf5e"/><circle cx="40.500" cy="27" r="4.600" fill="#cfa632"/><circle cx="40.500" cy="27" r="2.400" fill="#b48c1c"/></svg>
<span class="t" style="top:253.84px;font-size:12px;line-height:12px;color:#333;letter-spacing:-0.013px;right:30.01px;">1 - 20'ün 63'ini görüntüleme</span>
<div class="a" style="left:1905px;top:122px;width:15px;height:920px;background:#fcfcfc;"></div>
<svg style="left:1908px;top:128px" width="9" height="5" viewBox="0 0 9 5"><path d="M0 5L4.500 0 9 5z" fill="#8c8c8c"/></svg>
<div class="a" style="left:1908px;top:140px;width:9px;height:726px;background:#8b8b8b;border-radius:4.500px;"></div>
<svg style="left:1908px;top:1029px" width="9" height="5" viewBox="0 0 9 5"><path d="M0 0L4.500 5 9 0z" fill="#8c8c8c"/></svg>
<section><div class="a" style="left:265px;top:274px;width:444px;height:70px;background:#f7f7f7;"></div>
<div class="a" style="left:709px;top:274px;width:6px;height:71px;background:#f5f5f5;"></div>
<div class="a" style="left:715px;top:274px;width:1175px;height:70px;background:#f7f7f7;"></div>
<span class="t" style="top:303.84px;font-size:12px;line-height:12px;color:#707070;font-family:'DejaVu Sans', 'Liberation Sans', sans-serif;letter-spacing:-0.120px;left:299.94px;transform:translateX(-50%);">Number</span>
<span class="t" style="top:303.84px;font-size:12px;line-height:12px;color:#707070;font-family:'DejaVu Sans', 'Liberation Sans', sans-serif;letter-spacing:0.009px;left:421.00px;transform:translateX(-50%);">Card name</span>
<span class="t" style="top:303.84px;font-size:12px;line-height:12px;color:#707070;font-family:'DejaVu Sans', 'Liberation Sans', sans-serif;letter-spacing:-0.166px;left:556.92px;transform:translateX(-50%);">Category</span>
<span class="t" style="top:303.84px;font-size:12px;line-height:12px;color:#707070;font-family:'DejaVu Sans', 'Liberation Sans', sans-serif;letter-spacing:-0.016px;left:657.99px;transform:translateX(-50%);">Assign to</span>
<div class="a" style="left:335px;top:274px;width:1px;height:768px;background:#d0d0d0;"></div>
<div class="a" style="left:506px;top:274px;width:1px;height:768px;background:#d0d0d0;"></div>
<div class="a" style="left:607px;top:274px;width:1px;height:768px;background:#d0d0d0;"></div>
<div class="a" style="left:708px;top:274px;width:1px;height:768px;background:#d0d0d0;"></div>
<div class="a" style="left:265px;top:344px;width:444px;height:1px;background:#d0d0d0;"></div>
<div class="a" style="left:265px;top:366px;width:444px;height:1px;background:#d0d0d0;"></div>
<div class="a" style="left:265px;top:387px;width:444px;height:1px;background:#d0d0d0;"></div>
<div class="a" style="left:265px;top:408px;width:444px;height:1px;background:#d0d0d0;"></div>
<div class="a" style="left:265px;top:429px;width:444px;height:1px;background:#d0d0d0;"></div>
<div class="a" style="left:265px;top:450px;width:444px;height:1px;background:#d0d0d0;"></div>
<div class="a" style="left:265px;top:471px;width:444px;height:1px;background:#d0d0d0;"></div>
<div class="a" style="left:265px;top:492px;width:444px;height:1px;background:#d0d0d0;"></div>
<div class="a" style="left:265px;top:513px;width:444px;height:1px;background:#d0d0d0;"></div>
<div class="a" style="left:265px;top:534px;width:444px;height:1px;background:#d0d0d0;"></div>
<div class="a" style="left:265px;top:555px;width:444px;height:1px;background:#d0d0d0;"></div>
<div class="a" style="left:265px;top:576px;width:444px;height:1px;background:#d0d0d0;"></div>
<div class="a" style="left:265px;top:597px;width:444px;height:1px;background:#d0d0d0;"></div>
<div class="a" style="left:265px;top:618px;width:444px;height:1px;background:#d0d0d0;"></div>
<div class="a" style="left:265px;top:639px;width:444px;height:1px;background:#d0d0d0;"></div>
<div class="a" style="left:265px;top:660px;width:444px;height:1px;background:#d0d0d0;"></div>
<div class="a" style="left:265px;top:681px;width:444px;height:1px;background:#d0d0d0;"></div>
<div class="a" style="left:265px;top:702px;width:444px;height:1px;background:#d0d0d0;"></div>
<div class="a" style="left:265px;top:723px;width:444px;height:1px;background:#d0d0d0;"></div>
<div class="a" style="left:265px;top:744px;width:444px;height:1px;background:#d0d0d0;"></div>
<div class="a" style="left:265px;top:765px;width:444px;height:1px;background:#d0d0d0;"></div>
<div class="a" style="left:265px;top:786px;width:444px;height:1px;background:#d0d0d0;"></div>
<div class="a" style="left:265px;top:807px;width:444px;height:1px;background:#d0d0d0;"></div>
<div class="a" style="left:265px;top:828px;width:444px;height:1px;background:#d0d0d0;"></div>
<div class="a" style="left:265px;top:849px;width:444px;height:1px;background:#d0d0d0;"></div>
<div class="a" style="left:265px;top:870px;width:444px;height:1px;background:#d0d0d0;"></div>
<div class="a" style="left:265px;top:891px;width:444px;height:1px;background:#d0d0d0;"></div>
<div class="a" style="left:265px;top:912px;width:444px;height:1px;background:#d0d0d0;"></div>
<div class="a" style="left:265px;top:933px;width:444px;height:1px;background:#d0d0d0;"></div>
<div class="a" style="left:265px;top:954px;width:444px;height:1px;background:#d0d0d0;"></div>
<div class="a" style="left:265px;top:975px;width:444px;height:1px;background:#d0d0d0;"></div>
<div class="a" style="left:265px;top:996px;width:444px;height:1px;background:#d0d0d0;"></div>
<div class="a" style="left:265px;top:1017px;width:444px;height:1px;background:#d0d0d0;"></div>
<div class="a" style="left:265px;top:1038px;width:444px;height:1px;background:#d0d0d0;"></div>
<div class="a" style="left:715px;top:274px;width:1175px;height:1px;background:#d0d0d0;"></div>
<div class="a" style="left:715px;top:297px;width:1175px;height:1px;background:#d0d0d0;"></div>
<div class="a" style="left:715px;top:321px;width:1175px;height:1px;background:#d0d0d0;"></div>
<div class="a" style="left:715px;top:344px;width:1175px;height:1px;background:#d0d0d0;"></div>
<div class="a" style="left:715px;top:274px;width:2px;height:768px;background:#c8c8c8;"></div>
<svg style="left:0;top:0" width="1920" height="1042" viewBox="0 0 1920 1042" shape-rendering="crispEdges"><path d="M718.5 321V1042M724.5 321V1042M730.5 321V1042M737.5 321V1042M743.5 321V1042M750.5 321V1042M756.5 321V1042M763.5 321V1042M769.5 321V1042M775.5 321V1042M782.5 321V1042M788.5 321V1042M795.5 321V1042M801.5 321V1042M808.5 321V1042M814.5 321V1042M820.5 321V1042M827.5 321V1042M833.5 321V1042M840.5 321V1042M846.5 321V1042M853.5 321V1042M859.5 321V1042M865.5 321V1042M872.5 321V1042M878.5 321V1042M885.5 321V1042M891.5 321V1042M898.5 321V1042M904.5 321V1042M910.5 321V1042M917.5 321V1042M923.5 321V1042M930.5 321V1042M936.5 321V1042M943.5 321V1042M949.5 321V1042M955.5 321V1042M962.5 321V1042M968.5 321V1042M975.5 321V1042M981.5 321V1042M988.5 321V1042M994.5 321V1042M1000.5 321V1042M1007.5 321V1042M1013.5 321V1042M1020.5 321V1042M1026.5 321V1042M1033.5 321V1042M1039.5 321V1042M1045.5 321V1042M1052.5 321V1042M1058.5 321V1042M1065.5 321V1042M1071.5 321V1042M1078.5 321V1042M1084.5 321V1042M1090.5 321V1042M1097.5 321V1042M1103.5 321V1042M1110.5 321V1042M1116.5 321V1042M1123.5 321V1042M1129.5 321V1042M1135.5 321V1042M1142.5 321V1042M1148.5 321V1042M1155.5 321V1042M1161.5 321V1042M1168.5 321V1042M1174.5 321V1042M1180.5 321V1042M1187.5 321V1042M1193.5 321V1042M1200.5 321V1042M1206.5 321V1042M1212.5 321V1042M1219.5 321V1042M1225.5 321V1042M1232.5 321V1042M1238.5 321V1042M1245.5 321V1042M1251.5 321V1042M1257.5 321V1042M1264.5 321V1042M1270.5 321V1042M1277.5 321V1042M1283.5 321V1042M1290.5 321V1042M1296.5 321V1042M1302.5 321V1042M1309.5 321V1042M1315.5 321V1042M1322.5 321V1042M1328.5 321V1042M1335.5 321V1042M1341.5 321V1042M1347.5 321V1042M1354.5 321V1042M1360.5 321V1042M1367.5 321V1042M1373.5 321V1042M1380.5 321V1042M1386.5 321V1042M1392.5 321V1042M1399.5 321V1042M1405.5 321V1042M1412.5 321V1042M1418.5 321V1042M1425.5 321V1042M1431.5 321V1042M1437.5 321V1042M1444.5 321V1042M1450.5 321V1042M1457.5 321V1042M1463.5 321V1042M1470.5 321V1042M1476.5 321V1042M1482.5 321V1042M1489.5 321V1042M1495.5 321V1042M1502.5 321V1042M1508.5 321V1042M1515.5 321V1042M1521.5 321V1042M1527.5 321V1042M1534.5 321V1042M1540.5 321V1042M1547.5 321V1042M1553.5 321V1042M1560.5 321V1042M1566.5 321V1042M1572.5 321V1042M1579.5 321V1042M1585.5 321V1042M1592.5 321V1042M1598.5 321V1042M1605.5 321V1042M1611.5 321V1042M1617.5 321V1042M1624.5 321V1042M1630.5 321V1042M1637.5 321V1042M1643.5 321V1042M1650.5 321V1042M1656.5 321V1042M1662.5 321V1042M1669.5 321V1042M1675.5 321V1042M1682.5 321V1042M1688.5 321V1042M1695.5 321V1042M1701.5 321V1042M1707.5 321V1042M1714.5 321V1042M1720.5 321V1042M1727.5 321V1042M1733.5 321V1042M1740.5 321V1042M1746.5 321V1042M1752.5 321V1042M1759.5 321V1042M1765.5 321V1042M1772.5 321V1042M1778.5 321V1042M1785.5 321V1042M1791.5 321V1042M1797.5 321V1042M1804.5 321V1042M1810.5 321V1042M1817.5 321V1042M1823.5 321V1042M1830.5 321V1042M1836.5 321V1042M1842.5 321V1042M1849.5 321V1042M1855.5 321V1042M1862.5 321V1042M1868.5 321V1042M1875.5 321V1042M1881.5 321V1042M1887.5 321V1042M717 366.5H1890M717 387.5H1890M717 408.5H1890M717 429.5H1890M717 450.5H1890M717 471.5H1890M717 492.5H1890M717 513.5H1890M717 534.5H1890M717 555.5H1890M717 576.5H1890M717 597.5H1890M717 618.5H1890M717 639.5H1890M717 660.5H1890M717 681.5H1890M717 702.5H1890M717 723.5H1890M717 744.5H1890M717 765.5H1890M717 786.5H1890M717 807.5H1890M717 828.5H1890M717 849.5H1890M717 870.5H1890M717 891.5H1890M717 912.5H1890M717 933.5H1890M717 954.5H1890M717 975.5H1890M717 996.5H1890M717 1017.5H1890M717 1038.5H1890" stroke="#d0d0d0" stroke-width="1" fill="none"/><path d="M782.5 298V321M846.5 298V321M912.5 298V321M977.5 298V321M1043.5 298V321M1110.5 298V321M1174.5 298V321M1240.5 298V321M1305.5 298V321M1371.5 275V321M1437.5 298V321M1497.5 298V321M1564.5 298V321M1628.5 298V321M1694.5 298V321M1759.5 298V321M1825.5 298V321" stroke="#d0d0d0" stroke-width="1" fill="none"/></svg>
<span class="t" style="top:304.84px;font-size:12px;line-height:12px;color:#707070;font-family:'DejaVu Sans', 'Liberation Sans', sans-serif;left:720.10px;">Mar</span>
<span class="t" style="top:281.84px;font-size:12px;line-height:12px;color:#707070;font-family:'DejaVu Sans', 'Liberation Sans', sans-serif;letter-spacing:-0.137px;left:720.10px;">2024</span>
<span class="t" style="top:304.84px;font-size:12px;line-height:12px;color:#707070;font-family:'DejaVu Sans', 'Liberation Sans', sans-serif;left:787.10px;">Apr</span>
<span class="t" style="top:304.84px;font-size:12px;line-height:12px;color:#707070;font-family:'DejaVu Sans', 'Liberation Sans', sans-serif;left:851.10px;">May</span>
<span class="t" style="top:304.84px;font-size:12px;line-height:12px;color:#707070;font-family:'DejaVu Sans', 'Liberation Sans', sans-serif;left:917.10px;">Jun</span>
<span class="t" style="top:304.84px;font-size:12px;line-height:12px;color:#707070;font-family:'DejaVu Sans', 'Liberation Sans', sans-serif;left:982.10px;">Jul</span>
<span class="t" style="top:304.84px;font-size:12px;line-height:12px;color:#707070;font-family:'DejaVu Sans', 'Liberation Sans', sans-serif;left:1048.10px;">Aug</span>
<span class="t" style="top:304.84px;font-size:12px;line-height:12px;color:#707070;font-family:'DejaVu Sans', 'Liberation Sans', sans-serif;left:1115.10px;">Sep</span>
<span class="t" style="top:304.84px;font-size:12px;line-height:12px;color:#707070;font-family:'DejaVu Sans', 'Liberation Sans', sans-serif;left:1179.10px;">Oct</span>
<span class="t" style="top:304.84px;font-size:12px;line-height:12px;color:#707070;font-family:'DejaVu Sans', 'Liberation Sans', sans-serif;left:1245.10px;">Nov</span>
<span class="t" style="top:304.84px;font-size:12px;line-height:12px;color:#707070;font-family:'DejaVu Sans', 'Liberation Sans', sans-serif;left:1310.10px;">Dec</span>
<span class="t" style="top:304.84px;font-size:12px;line-height:12px;color:#707070;font-family:'DejaVu Sans', 'Liberation Sans', sans-serif;left:1376.10px;">Jan</span>
<span class="t" style="top:281.84px;font-size:12px;line-height:12px;color:#707070;font-family:'DejaVu Sans', 'Liberation Sans', sans-serif;letter-spacing:-0.137px;left:1376.10px;">2025</span>
<span class="t" style="top:304.84px;font-size:12px;line-height:12px;color:#707070;font-family:'DejaVu Sans', 'Liberation Sans', sans-serif;left:1442.10px;">Feb</span>
<span class="t" style="top:304.84px;font-size:12px;line-height:12px;color:#707070;font-family:'DejaVu Sans', 'Liberation Sans', sans-serif;left:1502.10px;">Mar</span>
<span class="t" style="top:304.84px;font-size:12px;line-height:12px;color:#707070;font-family:'DejaVu Sans', 'Liberation Sans', sans-serif;left:1569.10px;">Apr</span>
<span class="t" style="top:304.84px;font-size:12px;line-height:12px;color:#707070;font-family:'DejaVu Sans', 'Liberation Sans', sans-serif;left:1633.10px;">May</span>
<span class="t" style="top:304.84px;font-size:12px;line-height:12px;color:#707070;font-family:'DejaVu Sans', 'Liberation Sans', sans-serif;left:1699.10px;">Jun</span>
<span class="t" style="top:304.84px;font-size:12px;line-height:12px;color:#707070;font-family:'DejaVu Sans', 'Liberation Sans', sans-serif;left:1764.10px;">Jul</span>
<span class="t" style="top:304.84px;font-size:12px;line-height:12px;color:#707070;font-family:'DejaVu Sans', 'Liberation Sans', sans-serif;left:1830.10px;">Aug</span>
<div><div class="a" style="left:266px;top:345px;width:65px;height:21px;overflow:hidden"><span class="t" style="top:4.04px;font-size:12px;line-height:12px;color:#707070;font-family:'DejaVu Sans', 'Liberation Sans', sans-serif;left:3.30px;letter-spacing:.16px;">1</span></div><div class="a" style="left:336px;top:345px;width:170px;height:21px;overflow:hidden"><svg style="left:10.2px;top:8.200px" width="4.500" height="3.400" viewBox="0 0 5 4"><path d="M0 0h5L2.500 3.800z" fill="#6a6a6a"/></svg><span class="t" style="top:5.64px;font-size:12px;line-height:12px;color:#707070;font-family:'DejaVu Sans', 'Liberation Sans', sans-serif;left:24.50px;">Günlük İşler</span></div><div class="a" style="left:716px;top:348px;width:778px;height:8px;background:#1a75d2;border-bottom:1px solid rgba(26,117,210,.55);background-clip:padding-box;"></div><div class="a" style="left:1492px;top:355px;width:2px;height:4px;background:rgba(60,90,115,.8);"></div><span class="t" style="top:349.16px;font-size:10.8px;line-height:10.8px;color:#757575;font-family:'DejaVu Sans', 'Liberation Sans', sans-serif;letter-spacing:0.356px;left:1497.90px;">100%</span></div>
<div><div class="a" style="left:266px;top:366px;width:65px;height:21px;overflow:hidden"><span class="t" style="top:4.04px;font-size:12px;line-height:12px;color:#707070;font-family:'DejaVu Sans', 'Liberation Sans', sans-serif;left:11.80px;letter-spacing:.16px;">1.1</span></div><div class="a" style="left:336px;top:366px;width:170px;height:21px;overflow:hidden"><svg style="left:25.2px;top:8.200px" width="4.500" height="3.400" viewBox="0 0 5 4"><path d="M0 0h5L2.500 3.800z" fill="#6a6a6a"/></svg><span class="t" style="top:5.64px;font-size:12px;line-height:12px;color:#707070;font-family:'DejaVu Sans', 'Liberation Sans', sans-serif;left:39.20px;">List 1</span></div><div class="a" style="left:716px;top:369px;width:778px;height:8px;background:#1a75d2;border-bottom:1px solid rgba(26,117,210,.55);background-clip:padding-box;"></div><div class="a" style="left:1492px;top:376px;width:2px;height:4px;background:rgba(60,90,115,.8);"></div><span class="t" style="top:370.16px;font-size:10.8px;line-height:10.8px;color:#757575;font-family:'DejaVu Sans', 'Liberation Sans', sans-serif;letter-spacing:0.356px;left:1497.90px;">100%</span></div>
<div><div class="a" style="left:266px;top:387px;width:65px;height:21px;overflow:hidden"><span class="t" style="top:4.04px;font-size:12px;line-height:12px;color:#707070;font-family:'DejaVu Sans', 'Liberation Sans', sans-serif;left:20.30px;letter-spacing:.16px;">1.1.1</span></div><div class="a" style="left:336px;top:387px;width:170px;height:21px;overflow:hidden"><span class="t" style="top:5.64px;font-size:12px;line-height:12px;color:#707070;font-family:'DejaVu Sans', 'Liberation Sans', sans-serif;left:34.20px;">test</span></div><div class="a" style="left:511px;top:389px;width:17px;height:15px;background:#e6e6fa;"></div><span class="t" style="top:390.64px;font-size:12px;line-height:12px;color:#707070;font-family:'DejaVu Sans', 'Liberation Sans', sans-serif;left:536.50px;">Kişisel</span></div>
<div><div class="a" style="left:266px;top:408px;width:65px;height:21px;overflow:hidden"><span class="t" style="top:4.04px;font-size:12px;line-height:12px;color:#707070;font-family:'DejaVu Sans', 'Liberation Sans', sans-serif;left:20.30px;letter-spacing:.16px;">2.1.2</span></div><div class="a" style="left:336px;top:408px;width:170px;height:21px;overflow:hidden"><span class="t" style="top:5.64px;font-size:12px;line-height:12px;color:#707070;font-family:'DejaVu Sans', 'Liberation Sans', sans-serif;left:34.20px;">sazzzz</span></div><div class="a" style="left:716px;top:411px;width:54px;height:15px;background:#1a75d2;border-top:1px solid rgba(26,117,210,.7);border-bottom:1px solid rgba(26,117,210,.5);background-clip:padding-box;"></div><span class="t" style="top:415.36px;font-size:10.8px;line-height:10.8px;color:#757575;font-family:'DejaVu Sans', 'Liberation Sans', sans-serif;letter-spacing:0.356px;left:773.90px;">100%</span></div>
<div><div class="a" style="left:266px;top:429px;width:65px;height:21px;overflow:hidden"><span class="t" style="top:4.04px;font-size:12px;line-height:12px;color:#707070;font-family:'DejaVu Sans', 'Liberation Sans', sans-serif;left:20.30px;letter-spacing:.16px;">3.1.3</span></div><div class="a" style="left:336px;top:429px;width:170px;height:21px;overflow:hidden"><span class="t" style="top:5.64px;font-size:12px;line-height:12px;color:#707070;font-family:'DejaVu Sans', 'Liberation Sans', sans-serif;left:34.20px;">Do Something</span></div><div class="a" style="left:716px;top:432px;width:71px;height:15px;background:#1a75d2;border-top:1px solid rgba(26,117,210,.7);border-bottom:1px solid rgba(26,117,210,.5);background-clip:padding-box;"></div><span class="t" style="top:436.36px;font-size:10.8px;line-height:10.8px;color:#757575;font-family:'DejaVu Sans', 'Liberation Sans', sans-serif;letter-spacing:0.356px;left:790.90px;">100%</span></div>
<div><div class="a" style="left:266px;top:450px;width:65px;height:21px;overflow:hidden"><span class="t" style="top:4.04px;font-size:12px;line-height:12px;color:#707070;font-family:'DejaVu Sans', 'Liberation Sans', sans-serif;left:20.30px;letter-spacing:.16px;">4.1.4</span></div><div class="a" style="left:336px;top:450px;width:170px;height:21px;overflow:hidden"><span class="t" style="top:5.64px;font-size:12px;line-height:12px;color:#707070;font-family:'DejaVu Sans', 'Liberation Sans', sans-serif;left:34.20px;">Oldes 222</span></div><div class="a" style="left:881px;top:453px;width:193px;height:15px;background:#1a75d2;border-top:1px solid rgba(26,117,210,.7);border-bottom:1px solid rgba(26,117,210,.5);background-clip:padding-box;"></div><span class="t" style="top:457.36px;font-size:10.8px;line-height:10.8px;color:#757575;font-family:'DejaVu Sans', 'Liberation Sans', sans-serif;letter-spacing:0.356px;left:1077.90px;">100%</span></div>
<div><div class="a" style="left:266px;top:471px;width:65px;height:21px;overflow:hidden"><span class="t" style="top:4.04px;font-size:12px;line-height:12px;color:#707070;font-family:'DejaVu Sans', 'Liberation Sans', sans-serif;left:20.30px;letter-spacing:.16px;">5.1.5</span></div><div class="a" style="left:336px;top:471px;width:170px;height:21px;overflow:hidden"><span class="t" style="top:5.64px;font-size:12px;line-height:12px;color:#707070;font-family:'DejaVu Sans', 'Liberation Sans', sans-serif;left:34.20px;">List 1 card 1</span></div><div class="a" style="left:511px;top:473px;width:17px;height:15px;background:#e0ffff;"></div><span class="t" style="top:474.64px;font-size:12px;line-height:12px;color:#707070;font-family:'DejaVu Sans', 'Liberation Sans', sans-serif;left:536.50px;">Genel</span><span class="t" style="top:476.64px;font-size:12px;line-height:12px;color:#707070;font-family:'DejaVu Sans', 'Liberation Sans', sans-serif;left:612.50px;">OCCONS</span><div class="a" style="left:969px;top:474px;width:193px;height:15px;background:#e0ffff;border:1px solid #bcd9fb;"></div><span class="t" style="top:478.36px;font-size:10.8px;line-height:10.8px;color:#757575;font-family:'DejaVu Sans', 'Liberation Sans', sans-serif;letter-spacing:0.356px;left:1165.90px;">100%</span></div>
<div><div class="a" style="left:266px;top:492px;width:65px;height:21px;overflow:hidden"><span class="t" style="top:4.04px;font-size:12px;line-height:12px;color:#707070;font-family:'DejaVu Sans', 'Liberation Sans', sans-serif;left:20.30px;letter-spacing:.16px;">6.1.6</span></div><div class="a" style="left:336px;top:492px;width:170px;height:21px;overflow:hidden"><span class="t" style="top:5.64px;font-size:12px;line-height:12px;color:#707070;font-family:'DejaVu Sans', 'Liberation Sans', sans-serif;left:34.20px;">List 1 card 2</span></div><div class="a" style="left:511px;top:494px;width:17px;height:15px;background:#e0ffff;"></div><span class="t" style="top:495.64px;font-size:12px;line-height:12px;color:#707070;font-family:'DejaVu Sans', 'Liberation Sans', sans-serif;left:536.50px;">Genel</span><span class="t" style="top:497.64px;font-size:12px;line-height:12px;color:#707070;font-family:'DejaVu Sans', 'Liberation Sans', sans-serif;left:612.50px;">OCCONS</span><div class="a" style="left:969px;top:495px;width:193px;height:15px;background:#e0ffff;border:1px solid #bcd9fb;"></div><span class="t" style="top:499.36px;font-size:10.8px;line-height:10.8px;color:#757575;font-family:'DejaVu Sans', 'Liberation Sans', sans-serif;letter-spacing:0.356px;left:1165.90px;">100%</span></div>
<div><div class="a" style="left:266px;top:513px;width:65px;height:21px;overflow:hidden"><span class="t" style="top:4.04px;font-size:12px;line-height:12px;color:#707070;font-family:'DejaVu Sans', 'Liberation Sans', sans-serif;left:20.30px;letter-spacing:.16px;">7.1.7</span></div><div class="a" style="left:336px;top:513px;width:170px;height:21px;overflow:hidden"><span class="t" style="top:5.64px;font-size:12px;line-height:12px;color:#707070;font-family:'DejaVu Sans', 'Liberation Sans', sans-serif;left:34.20px;">vvvv</span></div><div class="a" style="left:804px;top:516px;width:193px;height:15px;background:#1a75d2;border-top:1px solid rgba(26,117,210,.7);border-bottom:1px solid rgba(26,117,210,.5);background-clip:padding-box;"></div><span class="t" style="top:520.36px;font-size:10.8px;line-height:10.8px;color:#757575;font-family:'DejaVu Sans', 'Liberation Sans', sans-serif;letter-spacing:0.356px;left:1000.90px;">100%</span></div>
<div><div class="a" style="left:266px;top:534px;width:65px;height:21px;overflow:hidden"><span class="t" style="top:4.04px;font-size:12px;line-height:12px;color:#707070;font-family:'DejaVu Sans', 'Liberation Sans', sans-serif;left:20.30px;letter-spacing:.16px;">8.1.8</span></div><div class="a" style="left:336px;top:534px;width:170px;height:21px;overflow:hidden"><span class="t" style="top:5.64px;font-size:12px;line-height:12px;color:#707070;font-family:'DejaVu Sans', 'Liberation Sans', sans-serif;left:34.20px;">feature test</span></div><div class="a" style="left:1301px;top:537px;width:193px;height:15px;background:#1a75d2;border-top:1px solid rgba(26,117,210,.7);border-bottom:1px solid rgba(26,117,210,.5);background-clip:padding-box;"></div><span class="t" style="top:541.36px;font-size:10.8px;line-height:10.8px;color:#757575;font-family:'DejaVu Sans', 'Liberation Sans', sans-serif;letter-spacing:0.356px;left:1497.90px;">100%</span></div>
<div><div class="a" style="left:266px;top:555px;width:65px;height:21px;overflow:hidden"><span class="t" style="top:4.04px;font-size:12px;line-height:12px;color:#707070;font-family:'DejaVu Sans', 'Liberation Sans', sans-serif;left:20.30px;letter-spacing:.16px;">9.1.9</span></div><div class="a" style="left:336px;top:555px;width:170px;height:21px;overflow:hidden"><span class="t" style="top:5.64px;font-size:12px;line-height:12px;color:#707070;font-family:'DejaVu Sans', 'Liberation Sans', sans-serif;left:34.20px;">test</span></div><div class="a" style="left:1254px;top:558px;width:193px;height:15px;background:#1a75d2;border-top:1px solid rgba(26,117,210,.7);border-bottom:1px solid rgba(26,117,210,.5);background-clip:padding-box;"></div><span class="t" style="top:562.36px;font-size:10.8px;line-height:10.8px;color:#757575;font-family:'DejaVu Sans', 'Liberation Sans', sans-serif;letter-spacing:0.356px;left:1450.90px;">100%</span></div>
<div><div class="a" style="left:266px;top:576px;width:65px;height:21px;overflow:hidden"><span class="t" style="top:4.04px;font-size:12px;line-height:12px;color:#707070;font-family:'DejaVu Sans', 'Liberation Sans', sans-serif;left:20.30px;letter-spacing:.16px;">10.1.10</span></div><div class="a" style="left:336px;top:576px;width:170px;height:21px;overflow:hidden"><span class="t" style="top:5.64px;font-size:12px;line-height:12px;color:#707070;font-family:'DejaVu Sans', 'Liberation Sans', sans-serif;left:34.20px;">ZXZX test</span></div><div class="a" style="left:511px;top:578px;width:17px;height:15px;background:#e6e6fa;"></div><span class="t" style="top:579.64px;font-size:12px;line-height:12px;color:#707070;font-family:'DejaVu Sans', 'Liberation Sans', sans-serif;left:536.50px;">Kişisel</span><div class="a" style="left:1254px;top:579px;width:193px;height:15px;background:#e6e6fa;border:1px solid #bcd9fb;"></div><span class="t" style="top:583.36px;font-size:10.8px;line-height:10.8px;color:#757575;font-family:'DejaVu Sans', 'Liberation Sans', sans-serif;letter-spacing:0.356px;left:1450.90px;">100%</span></div>
<div><div class="a" style="left:266px;top:597px;width:65px;height:21px;overflow:hidden"><span class="t" style="top:4.04px;font-size:12px;line-height:12px;color:#707070;font-family:'DejaVu Sans', 'Liberation Sans', sans-serif;left:20.30px;letter-spacing:.16px;">11.1.11</span></div><div class="a" style="left:336px;top:597px;width:170px;height:21px;overflow:hidden"><span class="t" style="top:5.64px;font-size:12px;line-height:12px;color:#707070;font-family:'DejaVu Sans', 'Liberation Sans', sans-serif;left:34.20px;">Emir test</span></div><div class="a" style="left:511px;top:599px;width:17px;height:15px;background:#ffe4f1;"></div><span class="t" style="top:600.64px;font-size:12px;line-height:12px;color:#707070;font-family:'DejaVu Sans', 'Liberation Sans', sans-serif;left:536.50px;">Etkinlik</span><span class="t" style="top:602.64px;font-size:12px;line-height:12px;color:#707070;font-family:'DejaVu Sans', 'Liberation Sans', sans-serif;left:612.50px;">OCCONS</span><div class="a" style="left:1256px;top:600px;width:193px;height:15px;background:#ffe4f1;border:1px solid #bcd9fb;"></div><span class="t" style="top:604.36px;font-size:10.8px;line-height:10.8px;color:#757575;font-family:'DejaVu Sans', 'Liberation Sans', sans-serif;letter-spacing:0.356px;left:1452.90px;">100%</span></div>
<div><div class="a" style="left:266px;top:618px;width:65px;height:21px;overflow:hidden"><span class="t" style="top:4.04px;font-size:12px;line-height:12px;color:#707070;font-family:'DejaVu Sans', 'Liberation Sans', sans-serif;left:11.80px;letter-spacing:.16px;">1.2</span></div><div class="a" style="left:336px;top:618px;width:170px;height:21px;overflow:hidden"><svg style="left:25.2px;top:8.200px" width="4.500" height="3.400" viewBox="0 0 5 4"><path d="M0 0h5L2.500 3.800z" fill="#6a6a6a"/></svg><span class="t" style="top:5.64px;font-size:12px;line-height:12px;color:#707070;font-family:'DejaVu Sans', 'Liberation Sans', sans-serif;left:39.20px;">List 2</span></div><div class="a" style="left:782px;top:621px;width:247.5px;height:8px;background:#1a75d2;border-bottom:1px solid rgba(26,117,210,.55);background-clip:padding-box;"></div><div class="a" style="left:782px;top:628px;width:2px;height:4px;background:rgba(60,90,115,.8);"></div><div class="a" style="left:1027.5px;top:628px;width:2px;height:4px;background:rgba(60,90,115,.8);"></div><span class="t" style="top:622.16px;font-size:10.8px;line-height:10.8px;color:#757575;font-family:'DejaVu Sans', 'Liberation Sans', sans-serif;letter-spacing:0.356px;left:1033.40px;">100%</span></div>
<div><div class="a" style="left:266px;top:639px;width:65px;height:21px;overflow:hidden"><span class="t" style="top:4.04px;font-size:12px;line-height:12px;color:#707070;font-family:'DejaVu Sans', 'Liberation Sans', sans-serif;left:20.30px;letter-spacing:.16px;">1.2.1</span></div><div class="a" style="left:336px;top:639px;width:170px;height:21px;overflow:hidden"><span class="t" style="top:5.64px;font-size:12px;line-height:12px;color:#707070;font-family:'DejaVu Sans', 'Liberation Sans', sans-serif;left:34.20px;">List 2 card 1</span></div><div class="a" style="left:511px;top:641px;width:17px;height:15px;background:#e0ffff;"></div><span class="t" style="top:642.64px;font-size:12px;line-height:12px;color:#707070;font-family:'DejaVu Sans', 'Liberation Sans', sans-serif;left:536.50px;">Genel</span><span class="t" style="top:644.64px;font-size:12px;line-height:12px;color:#707070;font-family:'DejaVu Sans', 'Liberation Sans', sans-serif;left:612.50px;">OCCONS</span><div class="a" style="left:782px;top:642px;width:194.5px;height:15px;background:#e0ffff;border:1px solid #bcd9fb;"></div><span class="t" style="top:646.36px;font-size:10.8px;line-height:10.8px;color:#757575;font-family:'DejaVu Sans', 'Liberation Sans', sans-serif;letter-spacing:0.356px;left:980.40px;">100%</span></div>
<div><div class="a" style="left:266px;top:660px;width:65px;height:21px;overflow:hidden"><span class="t" style="top:4.04px;font-size:12px;line-height:12px;color:#707070;font-family:'DejaVu Sans', 'Liberation Sans', sans-serif;left:20.30px;letter-spacing:.16px;">2.2.2</span></div><div class="a" style="left:336px;top:660px;width:170px;height:21px;overflow:hidden"><span class="t" style="top:5.64px;font-size:12px;line-height:12px;color:#707070;font-family:'DejaVu Sans', 'Liberation Sans', sans-serif;left:34.20px;">vvvvv</span></div><div class="a" style="left:804px;top:663px;width:195px;height:15px;background:#1a75d2;border-top:1px solid rgba(26,117,210,.7);border-bottom:1px solid rgba(26,117,210,.5);background-clip:padding-box;"></div><span class="t" style="top:667.36px;font-size:10.8px;line-height:10.8px;color:#757575;font-family:'DejaVu Sans', 'Liberation Sans', sans-serif;letter-spacing:0.356px;left:1002.90px;">100%</span></div>
<div><div class="a" style="left:266px;top:681px;width:65px;height:21px;overflow:hidden"><span class="t" style="top:4.04px;font-size:12px;line-height:12px;color:#707070;font-family:'DejaVu Sans', 'Liberation Sans', sans-serif;left:20.30px;letter-spacing:.16px;">3.2.3</span></div><div class="a" style="left:336px;top:681px;width:170px;height:21px;overflow:hidden"><span class="t" style="top:5.64px;font-size:12px;line-height:12px;color:#707070;font-family:'DejaVu Sans', 'Liberation Sans', sans-serif;left:34.20px;">ffffff</span></div><span class="t" style="top:686.64px;font-size:12px;line-height:12px;color:#707070;font-family:'DejaVu Sans', 'Liberation Sans', sans-serif;left:612.50px;">OCCONS</span><div class="a" style="left:836px;top:684px;width:193.5px;height:15px;background:#1a75d2;border-top:1px solid rgba(26,117,210,.7);border-bottom:1px solid rgba(26,117,210,.5);background-clip:padding-box;"></div><span class="t" style="top:688.36px;font-size:10.8px;line-height:10.8px;color:#757575;font-family:'DejaVu Sans', 'Liberation Sans', sans-serif;letter-spacing:0.356px;left:1033.40px;">100%</span></div>
<div><div class="a" style="left:266px;top:702px;width:65px;height:21px;overflow:hidden"><span class="t" style="top:4.04px;font-size:12px;line-height:12px;color:#707070;font-family:'DejaVu Sans', 'Liberation Sans', sans-serif;left:20.30px;letter-spacing:.16px;">4.2.4</span></div><div class="a" style="left:336px;top:702px;width:170px;height:21px;overflow:hidden"><span class="t" style="top:5.64px;font-size:12px;line-height:12px;color:#707070;font-family:'DejaVu Sans', 'Liberation Sans', sans-serif;left:34.20px;">zzzz</span></div><div class="a" style="left:808px;top:705px;width:193.5px;height:15px;background:#1a75d2;border-top:1px solid rgba(26,117,210,.7);border-bottom:1px solid rgba(26,117,210,.5);background-clip:padding-box;"></div><span class="t" style="top:709.36px;font-size:10.8px;line-height:10.8px;color:#757575;font-family:'DejaVu Sans', 'Liberation Sans', sans-serif;letter-spacing:0.356px;left:1005.40px;">100%</span></div>
<div><div class="a" style="left:266px;top:723px;width:65px;height:21px;overflow:hidden"><span class="t" style="top:4.04px;font-size:12px;line-height:12px;color:#707070;font-family:'DejaVu Sans', 'Liberation Sans', sans-serif;left:3.30px;letter-spacing:.16px;">2</span></div><div class="a" style="left:336px;top:723px;width:170px;height:21px;overflow:hidden"><svg style="left:10.2px;top:8.200px" width="4.500" height="3.400" viewBox="0 0 5 4"><path d="M0 0h5L2.500 3.800z" fill="#6a6a6a"/></svg><span class="t" style="top:5.64px;font-size:12px;line-height:12px;color:#707070;font-family:'DejaVu Sans', 'Liberation Sans', sans-serif;left:24.50px;">Kişisel</span></div><div class="a" style="left:716px;top:726px;width:354px;height:8px;background:#1a75d2;border-bottom:1px solid rgba(26,117,210,.55);background-clip:padding-box;"></div><div class="a" style="left:1068px;top:733px;width:2px;height:4px;background:rgba(60,90,115,.8);"></div><span class="t" style="top:727.16px;font-size:10.8px;line-height:10.8px;color:#757575;font-family:'DejaVu Sans', 'Liberation Sans', sans-serif;letter-spacing:0.356px;left:1073.90px;">100%</span></div>
<div><div class="a" style="left:266px;top:744px;width:65px;height:21px;overflow:hidden"><span class="t" style="top:4.04px;font-size:12px;line-height:12px;color:#707070;font-family:'DejaVu Sans', 'Liberation Sans', sans-serif;left:11.80px;letter-spacing:.16px;">2.1</span></div><div class="a" style="left:336px;top:744px;width:170px;height:21px;overflow:hidden"><svg style="left:25.2px;top:8.200px" width="4.500" height="3.400" viewBox="0 0 5 4"><path d="M0 0h5L2.500 3.800z" fill="#6a6a6a"/></svg><span class="t" style="top:5.64px;font-size:12px;line-height:12px;color:#707070;font-family:'DejaVu Sans', 'Liberation Sans', sans-serif;left:39.20px;">List 11</span></div><div class="a" style="left:716px;top:747px;width:354px;height:8px;background:#1a75d2;border-bottom:1px solid rgba(26,117,210,.55);background-clip:padding-box;"></div><div class="a" style="left:1068px;top:754px;width:2px;height:4px;background:rgba(60,90,115,.8);"></div><span class="t" style="top:748.16px;font-size:10.8px;line-height:10.8px;color:#757575;font-family:'DejaVu Sans', 'Liberation Sans', sans-serif;letter-spacing:0.356px;left:1073.90px;">100%</span></div>
<div><div class="a" style="left:266px;top:765px;width:65px;height:21px;overflow:hidden"><span class="t" style="top:4.04px;font-size:12px;line-height:12px;color:#707070;font-family:'DejaVu Sans', 'Liberation Sans', sans-serif;left:20.30px;letter-spacing:.16px;">1.1.1</span></div><div class="a" style="left:336px;top:765px;width:170px;height:21px;overflow:hidden"><span class="t" style="top:5.64px;font-size:12px;line-height:12px;color:#707070;font-family:'DejaVu Sans', 'Liberation Sans', sans-serif;left:34.20px;">Do Something else</span></div><div class="a" style="left:716px;top:768px;width:71px;height:15px;background:#1a75d2;border-top:1px solid rgba(26,117,210,.7);border-bottom:1px solid rgba(26,117,210,.5);background-clip:padding-box;"></div><span class="t" style="top:772.36px;font-size:10.8px;line-height:10.8px;color:#757575;font-family:'DejaVu Sans', 'Liberation Sans', sans-serif;letter-spacing:0.356px;left:790.90px;">100%</span></div>
<div><div class="a" style="left:266px;top:786px;width:65px;height:21px;overflow:hidden"><span class="t" style="top:4.04px;font-size:12px;line-height:12px;color:#707070;font-family:'DejaVu Sans', 'Liberation Sans', sans-serif;left:20.30px;letter-spacing:.16px;">2.1.2</span></div><div class="a" style="left:336px;top:786px;width:170px;height:21px;overflow:hidden"><span class="t" style="top:5.64px;font-size:12px;line-height:12px;color:#707070;font-family:'DejaVu Sans', 'Liberation Sans', sans-serif;left:34.20px;">else11</span></div><div class="a" style="left:877px;top:789px;width:193px;height:15px;background:#1a75d2;border-top:1px solid rgba(26,117,210,.7);border-bottom:1px solid rgba(26,117,210,.5);background-clip:padding-box;"></div><span class="t" style="top:793.36px;font-size:10.8px;line-height:10.8px;color:#757575;font-family:'DejaVu Sans', 'Liberation Sans', sans-serif;letter-spacing:0.356px;left:1073.90px;">100%</span></div>
<div><div class="a" style="left:266px;top:807px;width:65px;height:21px;overflow:hidden"><span class="t" style="top:4.04px;font-size:12px;line-height:12px;color:#707070;font-family:'DejaVu Sans', 'Liberation Sans', sans-serif;left:11.80px;letter-spacing:.16px;">2.2</span></div><div class="a" style="left:336px;top:807px;width:170px;height:21px;overflow:hidden"><svg style="left:25.2px;top:8.200px" width="4.500" height="3.400" viewBox="0 0 5 4"><path d="M0 0h5L2.500 3.800z" fill="#6a6a6a"/></svg><span class="t" style="top:5.64px;font-size:12px;line-height:12px;color:#707070;font-family:'DejaVu Sans', 'Liberation Sans', sans-serif;left:39.20px;">List 22</span></div><div class="a" style="left:877px;top:810px;width:193px;height:8px;background:#1a75d2;border-bottom:1px solid rgba(26,117,210,.55);background-clip:padding-box;"></div><div class="a" style="left:877px;top:817px;width:2px;height:4px;background:rgba(60,90,115,.8);"></div><div class="a" style="left:1068px;top:817px;width:2px;height:4px;background:rgba(60,90,115,.8);"></div><span class="t" style="top:811.16px;font-size:10.8px;line-height:10.8px;color:#757575;font-family:'DejaVu Sans', 'Liberation Sans', sans-serif;letter-spacing:0.356px;left:1073.90px;">100%</span></div>
<div><div class="a" style="left:266px;top:828px;width:65px;height:21px;overflow:hidden"><span class="t" style="top:4.04px;font-size:12px;line-height:12px;color:#707070;font-family:'DejaVu Sans', 'Liberation Sans', sans-serif;left:20.30px;letter-spacing:.16px;">1.2.1</span></div><div class="a" style="left:336px;top:828px;width:170px;height:21px;overflow:hidden"><span class="t" style="top:5.64px;font-size:12px;line-height:12px;color:#707070;font-family:'DejaVu Sans', 'Liberation Sans', sans-serif;left:34.20px;">else221</span></div><span class="t" style="top:833.64px;font-size:12px;line-height:12px;color:#707070;font-family:'DejaVu Sans', 'Liberation Sans', sans-serif;left:612.50px;">OCCONS</span><div class="a" style="left:877px;top:831px;width:193px;height:15px;background:#1a75d2;border-top:1px solid rgba(26,117,210,.7);border-bottom:1px solid rgba(26,117,210,.5);background-clip:padding-box;"></div><span class="t" style="top:835.36px;font-size:10.8px;line-height:10.8px;color:#757575;font-family:'DejaVu Sans', 'Liberation Sans', sans-serif;letter-spacing:0.356px;left:1073.90px;">100%</span></div>
<div><div class="a" style="left:266px;top:849px;width:65px;height:21px;overflow:hidden"><span class="t" style="top:4.04px;font-size:12px;line-height:12px;color:#707070;font-family:'DejaVu Sans', 'Liberation Sans', sans-serif;left:20.30px;letter-spacing:.16px;">2.2.2</span></div><div class="a" style="left:336px;top:849px;width:170px;height:21px;overflow:hidden"><span class="t" style="top:5.64px;font-size:12px;line-height:12px;color:#707070;font-family:'DejaVu Sans', 'Liberation Sans', sans-serif;left:34.20px;">else222</span></div><div class="a" style="left:877px;top:852px;width:193px;height:15px;background:#1a75d2;border-top:1px solid rgba(26,117,210,.7);border-bottom:1px solid rgba(26,117,210,.5);background-clip:padding-box;"></div><span class="t" style="top:856.36px;font-size:10.8px;line-height:10.8px;color:#757575;font-family:'DejaVu Sans', 'Liberation Sans', sans-serif;letter-spacing:0.356px;left:1073.90px;">100%</span></div>
<div><div class="a" style="left:266px;top:870px;width:65px;height:21px;overflow:hidden"><span class="t" style="top:4.04px;font-size:12px;line-height:12px;color:#707070;font-family:'DejaVu Sans', 'Liberation Sans', sans-serif;left:11.80px;letter-spacing:.16px;">2.3</span></div><div class="a" style="left:336px;top:870px;width:170px;height:21px;overflow:hidden"><span class="t" style="top:5.64px;font-size:12px;line-height:12px;color:#707070;font-family:'DejaVu Sans', 'Liberation Sans', sans-serif;left:19.70px;">2222</span></div></div>
<div><div class="a" style="left:266px;top:891px;width:65px;height:21px;overflow:hidden"><span class="t" style="top:4.04px;font-size:12px;line-height:12px;color:#707070;font-family:'DejaVu Sans', 'Liberation Sans', sans-serif;left:3.30px;letter-spacing:.16px;">4</span></div><div class="a" style="left:336px;top:891px;width:170px;height:21px;overflow:hidden"><svg style="left:10.2px;top:8.200px" width="4.500" height="3.400" viewBox="0 0 5 4"><path d="M0 0h5L2.500 3.800z" fill="#6a6a6a"/></svg><span class="t" style="top:5.64px;font-size:12px;line-height:12px;color:#707070;font-family:'DejaVu Sans', 'Liberation Sans', sans-serif;left:24.50px;">Projeler</span></div><div class="a" style="left:716px;top:894px;width:120.5px;height:8px;background:#1a75d2;border-bottom:1px solid rgba(26,117,210,.55);background-clip:padding-box;"></div><div class="a" style="left:834.5px;top:901px;width:2px;height:4px;background:rgba(60,90,115,.8);"></div><span class="t" style="top:895.16px;font-size:10.8px;line-height:10.8px;color:#757575;font-family:'DejaVu Sans', 'Liberation Sans', sans-serif;letter-spacing:0.356px;left:840.40px;">100%</span></div>
<div><div class="a" style="left:266px;top:912px;width:65px;height:21px;overflow:hidden"><span class="t" style="top:4.04px;font-size:12px;line-height:12px;color:#707070;font-family:'DejaVu Sans', 'Liberation Sans', sans-serif;left:11.80px;letter-spacing:.16px;">4.1</span></div><div class="a" style="left:336px;top:912px;width:170px;height:21px;overflow:hidden"><svg style="left:25.2px;top:8.200px" width="4.500" height="3.400" viewBox="0 0 5 4"><path d="M0 0h5L2.500 3.800z" fill="#6a6a6a"/></svg><span class="t" style="top:5.64px;font-size:12px;line-height:12px;color:#707070;font-family:'DejaVu Sans', 'Liberation Sans', sans-serif;left:39.20px;">DEF Projesi</span></div><div class="a" style="left:716px;top:915px;width:111.5px;height:8px;background:#1a75d2;border-bottom:1px solid rgba(26,117,210,.55);background-clip:padding-box;"></div><div class="a" style="left:825.5px;top:922px;width:2px;height:4px;background:rgba(60,90,115,.8);"></div><span class="t" style="top:916.16px;font-size:10.8px;line-height:10.8px;color:#757575;font-family:'DejaVu Sans', 'Liberation Sans', sans-serif;letter-spacing:0.356px;left:831.40px;">100%</span></div>
<div><div class="a" style="left:266px;top:933px;width:65px;height:21px;overflow:hidden"><span class="t" style="top:4.04px;font-size:12px;line-height:12px;color:#707070;font-family:'DejaVu Sans', 'Liberation Sans', sans-serif;left:20.30px;letter-spacing:.16px;">1.1.1</span></div><div class="a" style="left:336px;top:933px;width:170px;height:21px;overflow:hidden"><span class="t" style="top:5.64px;font-size:12px;line-height:12px;color:#707070;font-family:'DejaVu Sans', 'Liberation Sans', sans-serif;left:34.20px;">Tanıtım Dokümanları</span></div><span class="t" style="top:938.64px;font-size:12px;line-height:12px;color:#707070;font-family:'DejaVu Sans', 'Liberation Sans', sans-serif;left:612.50px;">OCCONS</span></div>
<div><div class="a" style="left:266px;top:954px;width:65px;height:21px;overflow:hidden"><span class="t" style="top:4.04px;font-size:12px;line-height:12px;color:#707070;font-family:'DejaVu Sans', 'Liberation Sans', sans-serif;left:20.30px;letter-spacing:.16px;">2.1.2</span></div><div class="a" style="left:336px;top:954px;width:170px;height:21px;overflow:hidden"><span class="t" style="top:5.64px;font-size:12px;line-height:12px;color:#707070;font-family:'DejaVu Sans', 'Liberation Sans', sans-serif;left:34.20px;">Örnek Daire Hazırlanması</span></div><span class="t" style="top:959.64px;font-size:12px;line-height:12px;color:#707070;font-family:'DejaVu Sans', 'Liberation Sans', sans-serif;left:612.50px;">OCCONS</span><div class="a" style="left:716px;top:957px;width:30px;height:15px;background:#1a75d2;border-top:1px solid rgba(26,117,210,.7);border-bottom:1px solid rgba(26,117,210,.5);background-clip:padding-box;"></div><span class="t" style="top:961.36px;font-size:10.8px;line-height:10.8px;color:#757575;font-family:'DejaVu Sans', 'Liberation Sans', sans-serif;letter-spacing:0.356px;left:749.90px;">100%</span></div>
<div><div class="a" style="left:266px;top:975px;width:65px;height:21px;overflow:hidden"><span class="t" style="top:4.04px;font-size:12px;line-height:12px;color:#707070;font-family:'DejaVu Sans', 'Liberation Sans', sans-serif;left:20.30px;letter-spacing:.16px;">3.1.3</span></div><div class="a" style="left:336px;top:975px;width:170px;height:21px;overflow:hidden"><span class="t" style="top:5.64px;font-size:12px;line-height:12px;color:#707070;font-family:'DejaVu Sans', 'Liberation Sans', sans-serif;left:34.20px;">Satış Aramaları</span></div><div class="a" style="left:716px;top:978px;width:32.5px;height:15px;background:#1a75d2;border-top:1px solid rgba(26,117,210,.7);border-bottom:1px solid rgba(26,117,210,.5);background-clip:padding-box;"></div><span class="t" style="top:982.36px;font-size:10.8px;line-height:10.8px;color:#757575;font-family:'DejaVu Sans', 'Liberation Sans', sans-serif;letter-spacing:0.356px;left:752.40px;">100%</span></div>
<div><div class="a" style="left:266px;top:996px;width:65px;height:21px;overflow:hidden"><span class="t" style="top:4.04px;font-size:12px;line-height:12px;color:#707070;font-family:'DejaVu Sans', 'Liberation Sans', sans-serif;left:20.30px;letter-spacing:.16px;">4.1.4</span></div><div class="a" style="left:336px;top:996px;width:170px;height:21px;overflow:hidden"><span class="t" style="top:5.64px;font-size:12px;line-height:12px;color:#707070;font-family:'DejaVu Sans', 'Liberation Sans', sans-serif;left:34.20px;">Satış Listesi Oluşturma</span></div><div class="a" style="left:716px;top:999px;width:111.5px;height:15px;background:#1a75d2;border-top:1px solid rgba(26,117,210,.7);border-bottom:1px solid rgba(26,117,210,.5);background-clip:padding-box;"></div><span class="t" style="top:1003.36px;font-size:10.8px;line-height:10.8px;color:#757575;font-family:'DejaVu Sans', 'Liberation Sans', sans-serif;letter-spacing:0.356px;left:831.40px;">100%</span></div>
<div><div class="a" style="left:266px;top:1017px;width:65px;height:21px;overflow:hidden"><span class="t" style="top:4.04px;font-size:12px;line-height:12px;color:#707070;font-family:'DejaVu Sans', 'Liberation Sans', sans-serif;left:11.80px;letter-spacing:.16px;">4.2</span></div><div class="a" style="left:336px;top:1017px;width:170px;height:21px;overflow:hidden"><svg style="left:25.2px;top:8.200px" width="4.500" height="3.400" viewBox="0 0 5 4"><path d="M0 0h5L2.500 3.800z" fill="#6a6a6a"/></svg><span class="t" style="top:5.64px;font-size:12px;line-height:12px;color:#707070;font-family:'DejaVu Sans', 'Liberation Sans', sans-serif;left:39.20px;">ABC Projesi</span></div><div class="a" style="left:716px;top:1020px;width:120.5px;height:8px;background:#1a75d2;border-bottom:1px solid rgba(26,117,210,.55);background-clip:padding-box;"></div><div class="a" style="left:834.5px;top:1027px;width:2px;height:4px;background:rgba(60,90,115,.8);"></div><span class="t" style="top:1021.16px;font-size:10.8px;line-height:10.8px;color:#757575;font-family:'DejaVu Sans', 'Liberation Sans', sans-serif;letter-spacing:0.356px;left:840.40px;">100%</span></div>
<div class="a" style="left:511px;top:1041px;width:17px;height:1px;background:#e6e6fa;"></div>
<div class="a" style="left:1879px;top:345px;width:11px;height:697px;background:rgba(0,0,0,.025);"></div>
<div class="a" style="left:1879px;top:355px;width:11px;height:551px;background:rgba(226,226,226,.62);border:1px solid rgba(170,170,170,.55);border-radius:5.500px;"></div></section></main>
</body>
</html>
